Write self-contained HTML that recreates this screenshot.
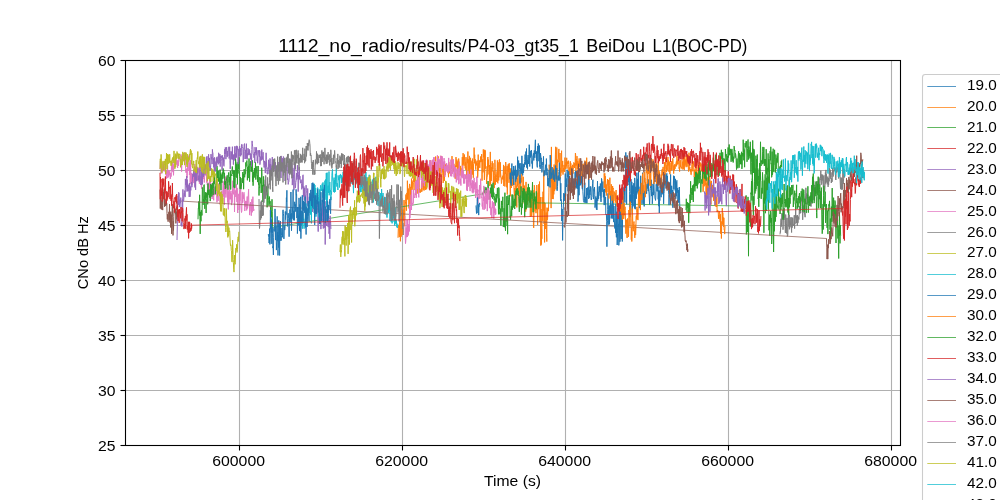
<!DOCTYPE html>
<html><head><meta charset="utf-8"><title>chart</title>
<style>html,body{margin:0;padding:0;background:#fff;overflow:hidden}svg{display:block}text{font-family:"Liberation Sans",sans-serif;fill:#000}</style></head><body>
<svg width="1000" height="500" viewBox="0 0 1000 500">
<rect width="1000" height="500" fill="#fff"/>
<g stroke="#b0b0b0" stroke-width="1.1" fill="none"><line x1="239.5" y1="60" x2="239.5" y2="445"/><line x1="402.5" y1="60" x2="402.5" y2="445"/><line x1="565.5" y1="60" x2="565.5" y2="445"/><line x1="728.5" y1="60" x2="728.5" y2="445"/><line x1="891.5" y1="60" x2="891.5" y2="445"/><line x1="125" y1="115.5" x2="900" y2="115.5"/><line x1="125" y1="170.5" x2="900" y2="170.5"/><line x1="125" y1="225.5" x2="900" y2="225.5"/><line x1="125" y1="280.5" x2="900" y2="280.5"/><line x1="125" y1="335.5" x2="900" y2="335.5"/><line x1="125" y1="390.5" x2="900" y2="390.5"/></g>
<clipPath id="c"><rect x="125" y="60" width="775" height="385"/></clipPath>
<g clip-path="url(#c)" fill="none" stroke-width="1.0" stroke-linejoin="round">
<path d="M160.0,169.2L160.3,161.3L160.5,161.0L160.8,163.4L161.1,173.4L161.4,167.9L161.6,167.9L161.9,173.4L162.2,168.4L162.4,170.7L162.7,163.8L163.0,162.0L163.2,165.4L163.5,171.2L163.8,167.6L164.1,167.3L164.3,163.9L164.6,171.3L164.9,168.3L165.1,164.7L165.4,171.5L165.7,170.9L165.9,175.1L166.2,171.1L166.5,178.6L166.8,172.6L167.0,171.1L167.3,173.4L167.6,165.5L167.8,178.1L168.1,170.2L168.4,170.8L168.6,176.7L168.9,170.5L169.2,175.3L169.5,171.9L169.7,171.3L170.0,175.8L170.3,178.9L170.5,178.0L170.8,173.0L171.1,176.6L171.3,171.2L171.6,161.3L171.9,170.0L172.2,163.9L172.4,168.9L172.7,161.7L173.0,172.2L173.2,164.4L173.5,175.3L173.8,168.8L174.0,165.2L174.3,159.5L174.6,163.7L174.9,167.3L175.1,167.6L175.4,159.8L175.7,162.3L175.9,155.6L176.2,154.9L176.5,159.1L176.7,164.6L177.0,160.9L177.3,161.1L177.6,168.0L177.8,160.2L178.1,160.2L178.4,165.9L178.6,161.1L178.9,158.0L179.2,157.1L179.4,158.5L179.7,159.1L180.0,158.5L180.3,161.8L180.5,162.1L180.8,162.0L181.1,154.5L181.3,164.9L181.6,171.6L181.9,163.4L182.1,160.5L182.4,156.5L182.7,156.9L183.0,156.4L183.2,158.3L183.5,154.2L183.8,161.2L184.0,157.6L184.3,156.2L184.6,152.4L184.8,161.0L185.1,155.5L185.4,166.0L185.7,168.2L185.9,172.6L186.2,168.6L186.5,170.5L186.7,173.8L187.0,178.1L187.3,177.0L187.5,162.0L187.8,163.3L188.1,170.9L188.4,155.7L188.6,159.7L188.9,160.7L189.2,155.8L189.4,175.0L189.7,172.2L190.0,162.7L190.2,183.9L190.5,160.2L190.8,169.0L191.1,180.3L191.3,183.0L191.6,173.1L191.9,184.9L192.1,177.2L192.4,179.7L192.7,177.6L192.9,174.3L193.2,181.3L193.5,170.1L193.8,183.1L194.0,179.3L194.3,168.9L194.6,179.5L194.8,164.1L195.1,185.9L195.4,187.2L195.6,166.5L195.9,172.5L196.2,180.7L196.5,177.9L196.7,171.7L197.0,175.1L197.3,180.4L197.5,178.3L197.8,175.8L198.1,172.8L198.3,167.8L198.6,172.4L198.9,168.4L199.2,167.4L199.4,183.8L199.7,170.0L200.0,181.8L200.2,181.6L200.5,176.4L200.8,177.7L201.0,176.7L201.3,186.5L201.6,188.6L201.9,178.7L202.1,180.4L202.4,178.7L202.7,177.4L202.9,175.2L203.2,179.0L203.5,173.3L203.7,176.9L204.0,178.6L204.3,182.5L204.6,177.1L204.8,174.5L205.1,175.1L205.4,175.1L205.6,168.6L205.9,166.1L206.2,175.7L206.4,170.1L206.7,182.6L207.0,177.4L207.3,185.0L207.5,183.5L207.8,191.8L208.1,192.1L208.3,194.8L208.6,193.8L208.9,182.7L209.1,192.9L209.4,183.4L209.7,179.0L210.0,191.3L210.2,177.1L210.5,183.3L210.8,188.0L211.0,184.2L211.3,190.3L211.6,190.5L211.8,190.7L212.1,199.0L212.4,191.3L212.7,194.9L212.9,195.9L213.2,181.5L213.5,197.4L213.7,200.3L214.0,186.6L214.3,195.1L214.5,194.2L214.8,188.8L215.1,187.8L215.4,194.8L215.6,187.0L215.9,186.3L216.2,180.2L216.4,184.0L216.7,195.5L217.0,202.3L217.2,191.8L217.5,197.7L217.8,195.3L218.1,200.9L218.3,195.8L218.6,184.4L218.9,188.9L219.1,183.0L219.4,193.0L219.7,184.2L219.9,202.5L220.2,204.6L220.5,194.9L220.8,201.4L221.0,192.9L221.3,193.5L221.6,199.1L221.8,190.8L222.1,201.6L222.4,197.7L222.6,195.7L222.9,191.2L223.2,181.3L223.5,196.6L223.7,190.6L224.0,186.5L224.3,204.8L224.5,178.2L224.8,183.5L225.1,192.5L225.3,194.2L225.6,176.6L225.9,197.5L226.2,193.0L226.4,176.9L226.7,177.0L227.0,179.2L227.2,186.4L227.5,198.1L227.8,202.4L228.0,190.1L228.3,209.4L228.6,191.7L228.9,203.3L229.1,197.0L229.4,182.0L229.7,189.5L229.9,199.5L230.2,192.7L230.5,199.1L230.7,194.6L231.0,190.8L231.3,202.2L231.6,205.1L231.8,193.5L232.1,202.7L232.4,194.3L232.6,188.5L232.9,180.7L233.2,192.6L233.4,192.2L233.7,194.4L234.0,185.0L234.3,186.6L234.5,212.0L234.8,195.8L235.1,192.5L235.3,190.4L235.6,193.3L235.9,197.0L236.1,190.1L236.4,184.2L236.7,196.7L237.0,202.0L237.2,187.9L237.5,211.1L237.8,213.0L238.0,206.2L238.3,196.4L238.6,196.2L238.8,193.8L239.1,210.0L239.4,206.4L239.7,191.3L239.9,200.7L240.2,183.1L240.5,191.2L240.7,186.1L241.0,206.9L241.3,210.5L241.5,212.5L241.8,211.0L242.1,192.3L242.4,192.1L242.6,202.8L242.9,202.0L243.2,195.5L243.4,198.7L243.7,193.9L244.0,192.3L244.2,193.5L244.5,201.2L244.8,211.0L245.1,204.0L245.3,206.5L245.6,200.9L245.9,206.6L246.1,202.8L246.4,201.2L246.7,210.4L246.9,202.7L247.2,196.5L247.5,208.5L247.8,206.2L248.0,201.7L248.3,194.3L248.6,189.2L248.8,200.7L249.1,204.5L249.4,204.3L249.6,215.1L249.9,210.9L250.2,211.0L250.5,202.1L250.7,206.6L251.0,207.6L251.3,215.7L251.5,209.1L251.8,199.3L252.1,202.3L252.3,212.3L252.6,200.8L252.9,196.7L253.2,203.5L253.4,205.2L253.7,210.9L254.0,209.3" stroke="#e377c2"/>
<path d="M780.0,234.4L780.3,231.5L780.5,232.4L780.8,222.1L781.1,218.7L781.3,226.6L781.6,221.2L781.9,213.2L782.2,219.2L782.4,217.3L782.7,213.7L783.0,229.7L783.2,226.2L783.5,216.0L783.8,208.2L784.0,219.7L784.3,208.2L784.6,218.3L784.9,220.7L785.1,226.8L785.4,232.9L785.7,214.5L785.9,217.7L786.2,223.3L786.5,223.9L786.7,233.5L787.0,217.9L787.3,236.4L787.6,235.9L787.8,234.9L788.1,223.6L788.4,214.1L788.6,211.9L788.9,226.6L789.2,214.8L789.4,229.3L789.7,220.6L790.0,227.3L790.3,223.2L790.5,224.9L790.8,217.3L791.1,223.0L791.3,227.2L791.6,232.5L791.9,217.3L792.1,227.7L792.4,221.9L792.7,217.9L793.0,224.9L793.2,225.3L793.5,224.6L793.8,226.0L794.0,218.5L794.3,215.2L794.6,228.6L794.8,221.6L795.1,223.7L795.4,217.8L795.7,205.9L795.9,218.0L796.2,215.6L796.5,223.0L796.7,221.9L797.0,215.6L797.3,225.6L797.5,215.2L797.8,223.2L798.1,222.3L798.4,216.7L798.6,217.5L798.9,219.5L799.2,214.0L799.4,206.0L799.7,213.7L800.0,209.6L800.2,207.2L800.5,213.2L800.8,212.8L801.1,206.6L801.3,201.0L801.6,197.7L801.9,201.5L802.1,201.9L802.4,193.5L802.7,219.8L802.9,208.2L803.2,205.5L803.5,207.8L803.8,211.3L804.0,212.8L804.3,204.5L804.6,214.2L804.8,213.9L805.1,217.2L805.4,196.7L805.6,203.2L805.9,187.8L806.2,198.8L806.5,193.5L806.7,193.6L807.0,204.4L807.3,199.3L807.5,202.4L807.8,194.6L808.1,198.8L808.3,202.3L808.6,202.5L808.9,201.8L809.2,203.3L809.4,198.5L809.7,196.4L810.0,205.7L810.2,199.2L810.5,196.7L810.8,197.8L811.0,206.6L811.3,197.7L811.6,199.1L811.9,203.3L812.1,197.5L812.4,195.4L812.7,201.5L812.9,188.8L813.2,199.8L813.5,188.0L813.7,180.9L814.0,184.4L814.3,191.5L814.6,192.0L814.8,184.9L815.1,189.5L815.4,192.5L815.6,193.4L815.9,187.0L816.2,193.5L816.4,182.4L816.7,190.3L817.0,181.0L817.3,186.4L817.5,185.6L817.8,183.5L818.1,192.4L818.3,181.6L818.6,186.6L818.9,181.1L819.1,177.5L819.4,185.2L819.7,184.8L820.0,179.0L820.2,179.8L820.5,178.4L820.8,170.7L821.0,180.8L821.3,184.7L821.6,183.9L821.8,174.3L822.1,180.6L822.4,175.5L822.7,174.8L822.9,183.4L823.2,185.0L823.5,192.6L823.7,176.0L824.0,175.4L824.3,187.2L824.5,191.6L824.8,190.1L825.1,185.2L825.4,172.5L825.6,183.5L825.9,169.9L826.2,182.4L826.4,174.3L826.7,180.5L827.0,181.7L827.2,184.3L827.5,183.9L827.8,176.6L828.1,186.9L828.3,178.0L828.6,185.0L828.9,178.7L829.1,181.3L829.4,168.1L829.7,174.7L829.9,171.4L830.2,178.8L830.5,169.8L830.8,177.0L831.0,172.4L831.3,183.0L831.6,178.4L831.8,179.1L832.1,181.8L832.4,175.3L832.6,167.8L832.9,173.8L833.2,176.5L833.5,170.1L833.7,172.1L834.0,167.6L834.3,167.6L834.5,170.6L834.8,171.1L835.1,167.5L835.3,168.8L835.6,179.0L835.9,180.0L836.2,171.4L836.4,172.4L836.7,167.3L837.0,172.2L837.2,167.2L837.5,168.7L837.8,168.2L838.0,169.7L838.3,168.1L838.6,178.5L838.9,169.5L839.1,176.3L839.4,170.4L839.7,167.7L839.9,170.3L840.2,182.0L840.5,188.8L840.7,185.4L841.0,177.4L841.3,189.7L841.6,183.4L841.8,178.2L842.1,182.9L842.4,189.5L842.6,182.6L842.9,169.0L843.2,183.9L843.4,181.6L843.7,178.2L844.0,169.0L844.3,177.5L844.5,175.9L844.8,171.0" stroke="#7f7f7f"/>
<path d="M398.0,237.8L398.3,228.2L398.5,227.6L398.8,224.9L399.1,230.9L399.3,237.1L399.6,217.0L399.9,227.0L400.2,228.0L400.4,241.3L400.7,236.0L401.0,204.4L401.2,236.7L401.5,208.6L401.8,210.8L402.0,224.7L402.3,234.9L402.6,224.7L402.9,232.4L403.1,209.4L403.4,215.0L403.7,220.6L403.9,200.4L404.2,200.0L404.5,226.2L404.7,221.3L405.0,207.5L405.3,204.1L405.6,201.9L405.8,194.6L406.1,195.3L406.4,210.7L406.6,201.3L406.9,192.9L407.2,199.2L407.4,180.7L407.7,199.5L408.0,190.1L408.3,195.1L408.5,188.6L408.8,204.9L409.1,208.5L409.3,187.0L409.6,183.9L409.9,185.3L410.1,204.4L410.4,197.1L410.7,186.9L411.0,189.0L411.2,194.1L411.5,178.6L411.8,188.0L412.0,180.5L412.3,181.7L412.6,183.0L412.8,189.7L413.1,187.8L413.4,182.7L413.7,178.6L413.9,170.2L414.2,181.7L414.5,181.9L414.7,172.7L415.0,190.1L415.3,181.3L415.5,183.4L415.8,195.1L416.1,192.7L416.4,185.9L416.6,187.6L416.9,187.6L417.2,193.6L417.4,176.1L417.7,170.8L418.0,182.2L418.2,186.4L418.5,193.1L418.8,181.6L419.1,176.9L419.3,187.3L419.6,190.5L419.9,192.7L420.1,189.3L420.4,192.4L420.7,192.2L420.9,192.1L421.2,191.9L421.5,181.0L421.8,191.6L422.0,191.4L422.3,187.5L422.6,177.3L422.8,187.3L423.1,163.4L423.4,189.6L423.6,186.0L423.9,190.5L424.2,190.4L424.5,186.9L424.7,185.5L425.0,179.8L425.3,178.1L425.5,189.8L425.8,173.7L426.1,186.3L426.3,182.9L426.6,189.3L426.9,186.7L427.2,173.8L427.4,172.7L427.7,179.8L428.0,181.3L428.2,182.7L428.5,170.0L428.8,181.7L429.0,171.3L429.3,177.6L429.6,182.0L429.9,180.5L430.1,160.1L430.4,174.6L430.7,162.5L430.9,174.3L431.2,172.6L431.5,174.6L431.7,167.5L432.0,173.3L432.3,161.5L432.6,167.0L432.8,177.2L433.1,180.7L433.4,171.6L433.6,168.1L433.9,166.7L434.2,163.4L434.4,173.0L434.7,162.7L435.0,170.5L435.3,174.6L435.5,156.6L435.8,156.6L436.1,169.5L436.3,164.7L436.6,164.8L436.9,174.1L437.1,167.0L437.4,163.6L437.7,164.1L438.0,158.4L438.2,156.3L438.5,170.8L438.8,170.4L439.0,167.7L439.3,182.3L439.6,168.4L439.8,168.9L440.1,160.2L440.4,163.8L440.7,161.6L440.9,177.0L441.2,155.9L441.5,162.6L441.7,157.8L442.0,172.3L442.3,166.1L442.5,163.4L442.8,175.3L443.1,182.9L443.4,181.7L443.6,162.9L443.9,173.1L444.2,163.2L444.4,180.9L444.7,163.7L445.0,168.8L445.2,175.0L445.5,165.2L445.8,166.7L446.1,163.9L446.3,168.2L446.6,168.6L446.9,168.1L447.1,168.3L447.4,171.3L447.7,168.9L447.9,172.6L448.2,171.3L448.5,177.2L448.8,161.9L449.0,163.7L449.3,170.0L449.6,173.1L449.8,170.9L450.1,173.7L450.4,169.0L450.6,174.2L450.9,170.1L451.2,165.7L451.5,165.3L451.7,168.7L452.0,156.1L452.3,167.3L452.5,171.0L452.8,171.8L453.1,167.7L453.3,169.1L453.6,171.4L453.9,163.8L454.2,169.8L454.4,168.1L454.7,168.2L455.0,167.4L455.2,178.8L455.5,165.9L455.8,164.3L456.0,157.1L456.3,167.0L456.6,164.4L456.9,159.6L457.1,169.0L457.4,175.6L457.7,161.5L457.9,161.3L458.2,174.5L458.5,163.2L458.7,158.5L459.0,163.6L459.3,168.3L459.6,173.5L459.8,175.4L460.1,173.0L460.4,165.9L460.6,169.8L460.9,167.9L461.2,175.8L461.4,169.6L461.7,172.7L462.0,172.6L462.3,157.1L462.5,174.9L462.8,171.1L463.1,153.1L463.3,164.4L463.6,156.8L463.9,162.8L464.1,165.7L464.4,154.5L464.7,159.0L465.0,160.9L465.2,168.3L465.5,162.0L465.8,169.9L466.0,157.1L466.3,165.4L466.6,170.7L466.8,178.5L467.1,161.3L467.4,158.7L467.7,163.2L467.9,151.5L468.2,170.1L468.5,159.5L468.7,169.5L469.0,174.2L469.3,177.4L469.5,155.9L469.8,176.8L470.1,166.5L470.4,159.3L470.6,157.8L470.9,178.9L471.2,178.8L471.4,170.9L471.7,161.8L472.0,160.6L472.2,174.3L472.5,158.6L472.8,174.5L473.1,165.5L473.3,177.8L473.6,163.8L473.9,161.6L474.1,147.6L474.4,163.1L474.7,154.7L474.9,163.4L475.2,159.2L475.5,166.3L475.8,169.7L476.0,161.5L476.3,165.5L476.6,162.6L476.8,162.6L477.1,160.5L477.4,162.5L477.6,177.8L477.9,174.7L478.2,154.6L478.5,170.8L478.7,163.9L479.0,163.4L479.3,164.1L479.5,160.5L479.8,167.9L480.1,160.7L480.3,162.1L480.6,156.5L480.9,158.8L481.2,162.1L481.4,161.5L481.7,154.1L482.0,180.7L482.2,174.7L482.5,162.2L482.8,159.3L483.0,172.4L483.3,149.4L483.6,157.2L483.9,154.1L484.1,151.3L484.4,179.9L484.7,149.8L484.9,160.9L485.2,150.4L485.5,166.9L485.7,168.7L486.0,166.3L486.3,173.9L486.6,184.0L486.8,180.0L487.1,177.7L487.4,175.0L487.6,159.9L487.9,157.0L488.2,167.4L488.4,159.6L488.7,167.7L489.0,174.5L489.3,167.0L489.5,165.1L489.8,186.1L490.1,168.7L490.3,151.9L490.6,184.4L490.9,162.9L491.1,180.0L491.4,180.8L491.7,167.1L492.0,171.6L492.2,161.2L492.5,163.7L492.8,169.3L493.0,163.2L493.3,183.3L493.6,180.7L493.8,171.1L494.1,187.9L494.4,188.0L494.7,175.6L494.9,159.8L495.2,167.6L495.5,184.7L495.7,174.7L496.0,178.9L496.3,181.9L496.5,177.4L496.8,171.4L497.1,170.8L497.4,160.4L497.6,182.8L497.9,183.3L498.2,162.3L498.4,175.4L498.7,180.5L499.0,174.4L499.2,160.1L499.5,159.4L499.8,169.1L500.1,177.4L500.3,162.2L500.6,173.0L500.9,176.2L501.1,177.1L501.4,183.6L501.7,182.2L501.9,177.8L502.2,179.1L502.5,176.6L502.8,175.7L503.0,179.6L503.3,172.2L503.6,164.9L503.8,186.0L504.1,166.2L504.4,175.3L504.6,176.8L504.9,186.5L505.2,172.3L505.5,173.9L505.7,162.0L506.0,166.2L506.3,181.5L506.5,173.8L506.8,187.3L507.1,166.1L507.3,194.5L507.6,176.4L507.9,168.8L508.2,164.3L508.4,171.9L508.7,164.7L509.0,182.8L509.2,163.2L509.5,178.8L509.8,168.4L510.0,175.5L510.3,196.3L510.6,168.6L510.9,184.9L511.1,186.5L511.4,188.0L511.7,175.9L511.9,171.4L512.2,176.7L512.5,185.7L512.7,184.4L513.0,177.5L513.3,173.7L513.6,178.8L513.8,181.7L514.1,192.1L514.4,195.5L514.6,194.8L514.9,188.0L515.2,204.4L515.4,185.9L515.7,174.6L516.0,183.3L516.3,189.5L516.5,185.8L516.8,207.4L517.1,178.2L517.3,179.4L517.6,186.3L517.9,173.9L518.1,171.0L518.4,185.8L518.7,193.6L519.0,192.8L519.2,202.8L519.5,208.7L519.8,175.3L520.0,195.8L520.3,204.0L520.6,181.8L520.8,178.0L521.1,178.0L521.4,182.4L521.7,181.3L521.9,171.2L522.2,191.8L522.5,188.7L522.7,203.9L523.0,193.0L523.3,176.8L523.5,193.4L523.8,195.4L524.1,192.1L524.4,185.6L524.6,192.5L524.9,194.4L525.2,201.8L525.4,193.8L525.7,211.7L526.0,181.9L526.2,193.7L526.5,209.4L526.8,201.1L527.1,198.7L527.3,204.8L527.6,197.7L527.9,194.8L528.1,201.0L528.4,200.2L528.7,196.5L528.9,197.4L529.2,199.5L529.5,190.9L529.8,190.2L530.0,190.5L530.3,216.9L530.6,201.2L530.8,210.6L531.1,203.6L531.4,198.8L531.6,216.4L531.9,210.5L532.2,197.8L532.5,192.5L532.7,195.3L533.0,190.2L533.3,215.3L533.5,227.5L533.8,228.0L534.1,197.0L534.3,185.2L534.6,187.3L534.9,211.4L535.2,210.6L535.4,196.6L535.7,198.0L536.0,213.2L536.2,196.7L536.5,210.0L536.8,185.0L537.0,189.9L537.3,202.8L537.6,224.9L537.9,208.2L538.1,192.7L538.4,209.1L538.7,184.3L538.9,209.1L539.2,205.1L539.5,181.6L539.7,196.7L540.0,222.0L540.3,206.9L540.6,197.2L540.8,245.6L541.1,209.1L541.4,244.5L541.6,229.6L541.9,238.8L542.2,197.0L542.4,204.8L542.7,220.8L543.0,191.7L543.3,210.7L543.5,195.0L543.8,170.8L544.1,224.0L544.3,202.5L544.6,242.4L544.9,202.9L545.1,203.3L545.4,223.1L545.7,229.0L546.0,223.8L546.2,212.5L546.5,233.5L546.8,241.6L547.0,207.6L547.3,219.9L547.6,218.3L547.8,208.4L548.1,209.6L548.4,211.1L548.7,203.2L548.9,192.9L549.2,164.7L549.5,169.3L549.7,180.5L550.0,167.8L550.3,178.2L550.5,177.9L550.8,181.3L551.1,208.1L551.4,146.9L551.6,182.3L551.9,174.1L552.2,199.0L552.4,197.9L552.7,171.1L553.0,181.8L553.2,199.1L553.5,168.1L553.8,194.4L554.1,164.5L554.3,184.9L554.6,191.1L554.9,166.3L555.1,167.2L555.4,154.8L555.7,146.8L555.9,189.4L556.2,171.0L556.5,168.9L556.8,147.5L557.0,179.8L557.3,160.1L557.6,162.6L557.8,159.6L558.1,162.2L558.4,159.5L558.6,151.9L558.9,148.9L559.2,160.6L559.5,169.5L559.7,171.7L560.0,153.0L560.3,178.6L560.5,167.9L560.8,176.0L561.1,168.0L561.3,156.9L561.6,150.7L561.9,172.5L562.2,164.6L562.4,166.3L562.7,160.9L563.0,174.6L563.2,170.5L563.5,168.0L563.8,171.4L564.0,164.9L564.3,171.1L564.6,171.8L564.9,157.6L565.1,161.4L565.4,169.0L565.7,164.1L565.9,162.2L566.2,165.4L566.5,166.3L566.7,157.8L567.0,168.7L567.3,161.7L567.6,163.8L567.8,162.2L568.1,160.9L568.4,160.7L568.6,164.7L568.9,174.0L569.2,169.6L569.4,167.5L569.7,174.9L570.0,166.3L570.3,161.3L570.5,175.2L570.8,163.2L571.1,169.1L571.3,167.6L571.6,167.2L571.9,166.5L572.1,171.1L572.4,166.0L572.7,164.8L573.0,173.6L573.2,169.7L573.5,167.7L573.8,162.4L574.0,163.4L574.3,163.6L574.6,168.0L574.8,163.2L575.1,165.7L575.4,153.1L575.7,155.1L575.9,171.4L576.2,159.2L576.5,165.4L576.7,164.7L577.0,156.1L577.3,169.1L577.5,167.1L577.8,160.9L578.1,171.5L578.4,166.0L578.6,162.8L578.9,165.0L579.2,158.4L579.4,167.3L579.7,161.5L580.0,161.6L580.2,160.1L580.5,161.4L580.8,167.0L581.1,179.2L581.3,169.3L581.6,168.6L581.9,170.0L582.1,164.2L582.4,179.6L582.7,173.8L582.9,173.0L583.2,168.8L583.5,168.5L583.8,163.7L584.0,164.4L584.3,165.8L584.6,179.0L584.8,160.7L585.1,160.8L585.4,169.0L585.6,171.9L585.9,163.0L586.2,165.1L586.5,163.2L586.7,157.7L587.0,170.5L587.3,169.8L587.5,166.6L587.8,172.5L588.1,164.7L588.3,169.6L588.6,169.5L588.9,174.9L589.2,162.3L589.4,178.3L589.7,172.1L590.0,172.5" stroke="#ff7f0e"/>
<path d="M198.0,219.3L198.3,208.3L198.5,208.8L198.8,201.4L199.1,207.7L199.4,215.6L199.6,194.8L199.9,209.1L200.2,233.9L200.4,218.0L200.7,211.9L201.0,221.3L201.2,210.3L201.5,210.2L201.8,215.6L202.1,215.0L202.3,187.6L202.6,187.4L202.9,199.0L203.1,204.9L203.4,199.3L203.7,201.3L203.9,185.1L204.2,184.6L204.5,199.7L204.8,208.8L205.0,195.9L205.3,200.1L205.6,192.2L205.8,194.1L206.1,213.0L206.4,198.6L206.6,192.8L206.9,196.4L207.2,196.0L207.5,189.9L207.7,204.3L208.0,183.5L208.3,194.7L208.5,190.1L208.8,193.1L209.1,194.0L209.3,196.0L209.6,197.6L209.9,189.5L210.2,201.1L210.4,198.3L210.7,184.0L211.0,187.3L211.2,193.9L211.5,185.1L211.8,196.6L212.0,193.0L212.3,183.1L212.6,189.3L212.9,190.3L213.1,194.9L213.4,188.3L213.7,177.0L213.9,179.5L214.2,183.7L214.5,175.5L214.7,183.8L215.0,183.7L215.3,194.1L215.6,189.6L215.8,186.3L216.1,188.8L216.4,182.1L216.6,180.2L216.9,166.0L217.2,167.4L217.4,178.0L217.7,171.1L218.0,178.7L218.3,181.2L218.5,181.4L218.8,170.7L219.1,181.5L219.3,177.7L219.6,185.4L219.9,183.6L220.1,169.6L220.4,183.3L220.7,173.3L221.0,190.2L221.2,174.5L221.5,182.3L221.8,181.4L222.0,182.7L222.3,172.4L222.6,177.0L222.8,178.9L223.1,168.4L223.4,173.4L223.7,169.9L223.9,176.6L224.2,177.9L224.5,172.8L224.7,184.7L225.0,181.5L225.3,188.9L225.5,181.4L225.8,188.2L226.1,181.8L226.4,178.9L226.6,179.4L226.9,177.3L227.2,175.3L227.4,183.5L227.7,183.9L228.0,189.7L228.2,178.3L228.5,172.7L228.8,172.4L229.1,182.2L229.3,182.2L229.6,177.1L229.9,185.0L230.1,185.4L230.4,170.8L230.7,189.5L230.9,174.7L231.2,174.4L231.5,174.5L231.8,176.0L232.0,169.8L232.3,166.5L232.6,169.3L232.8,173.9L233.1,172.6L233.4,170.4L233.6,177.8L233.9,187.4L234.2,177.5L234.5,170.5L234.7,188.0L235.0,187.8L235.3,177.7L235.5,158.4L235.8,161.0L236.1,172.9L236.3,177.7L236.6,164.4L236.9,172.3L237.2,162.4L237.4,184.4L237.7,169.6L238.0,173.5L238.2,169.1L238.5,162.2L238.8,169.0L239.0,157.4L239.3,170.7L239.6,176.1L239.9,178.7L240.1,188.8L240.4,177.2L240.7,189.0L240.9,189.1L241.2,189.1L241.5,185.0L241.7,182.5L242.0,178.2L242.3,183.0L242.6,179.2L242.8,172.0L243.1,179.4L243.4,174.1L243.6,189.2L243.9,177.2L244.2,169.2L244.4,175.7L244.7,177.3L245.0,174.0L245.3,174.0L245.5,173.9L245.8,162.4L246.1,166.5L246.3,163.2L246.6,162.2L246.9,160.5L247.1,163.2L247.4,180.3L247.7,167.2L248.0,168.7L248.2,178.1L248.5,165.8L248.8,172.5L249.0,158.5L249.3,168.3L249.6,181.7L249.8,173.1L250.1,163.8L250.4,164.8L250.7,161.2L250.9,166.0L251.2,171.8L251.5,158.2L251.7,167.2L252.0,171.3L252.3,160.3L252.5,181.7L252.8,176.1L253.1,185.7L253.4,179.1L253.6,171.7L253.9,173.9L254.2,175.2L254.4,168.1L254.7,177.4L255.0,177.7L255.2,174.0L255.5,162.2L255.8,179.6L256.1,174.6L256.3,173.6L256.6,168.2L256.9,166.2L257.1,175.5L257.4,175.2L257.7,182.1L257.9,174.6L258.2,166.0L258.5,184.6L258.8,183.4L259.0,195.5L259.3,187.1L259.6,187.7L259.8,177.1L260.1,180.3L260.4,178.0L260.6,183.3L260.9,179.4L261.2,193.0L261.5,179.0L261.7,167.7L262.0,175.4L262.3,191.5L262.5,185.2L262.8,202.0L263.1,200.3L263.3,192.5L263.6,176.4L263.9,196.5L264.2,186.8L264.4,184.6L264.7,187.2L265.0,196.2L265.2,189.6L265.5,185.0L265.8,187.1L266.0,193.9L266.3,186.4L266.6,194.2L266.9,190.2L267.1,207.3L267.4,200.1L267.7,186.4L267.9,185.3L268.2,197.9L268.5,199.4L268.7,200.7L269.0,205.8L269.3,196.5L269.6,199.8L269.8,203.6L270.1,201.2L270.4,206.5L270.6,210.3L270.9,216.7L271.2,211.5L271.4,217.5L271.7,209.1L272.0,199.3L272.3,211.2L272.5,226.4L272.8,227.4" stroke="#2ca02c"/>
<path d="M272.8,227.4L482.0,194.0" stroke="#2ca02c" stroke-width="0.72"/>
<path d="M482.0,194.0L482.3,193.7L482.5,193.8L482.8,193.0L483.1,195.2L483.3,191.7L483.6,193.9L483.9,191.4L484.2,193.1L484.4,189.9L484.7,192.2L485.0,186.9L485.2,187.8L485.5,194.2L485.8,192.6L486.0,188.8L486.3,195.1L486.6,189.5L486.9,187.4L487.1,189.5L487.4,191.1L487.7,195.1L487.9,181.3L488.2,181.0L488.5,191.6L488.7,193.1L489.0,190.9L489.3,193.1L489.6,195.3L489.8,199.6L490.1,198.4L490.4,187.7L490.6,195.3L490.9,196.7L491.2,190.4L491.4,184.5L491.7,197.2L492.0,184.6L492.3,195.5L492.5,198.7L492.8,185.8L493.1,182.8L493.3,187.2L493.6,196.7L493.9,192.7L494.1,200.3L494.4,196.5L494.7,198.5L495.0,205.8L495.2,204.7L495.5,198.5L495.8,199.9L496.0,194.1L496.3,202.4L496.6,194.1L496.8,198.5L497.1,195.2L497.4,187.9L497.7,196.3L497.9,197.4L498.2,198.5L498.5,214.3L498.7,187.4L499.0,188.3L499.3,208.9L499.5,198.6L499.8,214.3L500.1,211.8L500.4,214.0L500.6,208.6L500.9,225.7L501.2,211.2L501.4,200.9L501.7,205.6L502.0,211.9L502.2,211.2L502.5,205.6L502.8,196.8L503.1,214.2L503.3,226.9L503.6,217.4L503.9,223.0L504.1,208.1L504.4,227.2L504.7,213.2L504.9,192.7L505.2,225.3L505.5,230.8L505.8,217.8L506.0,218.3L506.3,221.5L506.6,208.0L506.8,196.2L507.1,225.7L507.4,204.2L507.6,234.2L507.9,195.5L508.2,199.5L508.5,205.0L508.7,201.9L509.0,199.4L509.3,194.9L509.5,197.2L509.8,206.0L510.1,217.7L510.3,215.6L510.6,219.7L510.9,210.6L511.2,208.4L511.4,206.0L511.7,216.3L512.0,194.5L512.2,204.7L512.5,209.6L512.8,194.7L513.0,196.0L513.3,200.4L513.6,207.5L513.9,200.6L514.1,202.7L514.4,198.9L514.7,209.0L514.9,202.3L515.2,195.3L515.5,193.9L515.7,205.8L516.0,190.6L516.3,194.1L516.6,188.8L516.8,192.6L517.1,195.2L517.4,188.4L517.6,188.2L517.9,194.3L518.2,190.7L518.4,195.0L518.7,196.5L519.0,203.3L519.3,211.9L519.5,198.8L519.8,205.6L520.1,195.5L520.3,207.1L520.6,198.2L520.9,198.1L521.1,186.4L521.4,214.6L521.7,205.6L522.0,203.4L522.2,208.1L522.5,202.5L522.8,190.9L523.0,202.4L523.3,188.0L523.6,199.9L523.8,195.3L524.1,191.9L524.4,188.8L524.7,217.2L524.9,199.6L525.2,201.5L525.5,209.2L525.7,193.0L526.0,191.4L526.3,208.8L526.5,193.7L526.8,206.2L527.1,207.6L527.4,202.1L527.6,187.5L527.9,192.6L528.2,194.9L528.4,183.9L528.7,192.6L529.0,207.7L529.2,193.5L529.5,187.4L529.8,202.5L530.1,195.1L530.3,192.7L530.6,201.2L530.9,207.7L531.1,190.6L531.4,195.6L531.7,194.0L531.9,198.8L532.2,191.6L532.5,182.1L532.8,201.5L533.0,212.3L533.3,212.1L533.6,199.0L533.8,198.5L534.1,192.7L534.4,199.1L534.6,201.3L534.9,196.8L535.2,204.4L535.5,199.8L535.7,199.3L536.0,208.8L536.3,191.3L536.5,201.2L536.8,202.9" stroke="#2ca02c"/>
<path d="M536.8,202.9L745.0,206.0" stroke="#2ca02c" stroke-width="0.72"/>
<path d="M745.0,206.0L745.3,207.0L745.5,208.4L745.8,207.9L746.1,195.4L746.3,234.4L746.6,233.5L746.9,210.9L747.2,213.9L747.4,232.0L747.7,213.6L748.0,196.9L748.2,212.3L748.5,256.2L748.8,209.2L749.0,214.9L749.3,217.2L749.6,207.9L749.9,206.7L750.1,204.8L750.4,212.2L750.7,226.5L750.9,192.7L751.2,194.2L751.5,181.1L751.7,195.5L752.0,200.5L752.3,178.6L752.6,182.7L752.8,203.0L753.1,209.0L753.4,215.4L753.6,196.3L753.9,205.1L754.2,201.8L754.4,181.4L754.7,172.9L755.0,193.5L755.3,176.1L755.5,177.8L755.8,188.0L756.1,189.1L756.3,188.6L756.6,170.1L756.9,183.9L757.1,184.1L757.4,179.4L757.7,183.6L758.0,181.5L758.2,199.0L758.5,195.9L758.8,206.8L759.0,192.3L759.3,170.8L759.6,197.9L759.8,187.8L760.1,173.5L760.4,172.3L760.7,180.9L760.9,181.0L761.2,198.9L761.5,191.1L761.7,191.0L762.0,187.8L762.3,193.5L762.5,172.4L762.8,179.1L763.1,180.7L763.4,211.7L763.6,197.8L763.9,232.8L764.2,184.7L764.4,180.6L764.7,203.5L765.0,178.6L765.2,174.2L765.5,213.2L765.8,199.1L766.1,181.7L766.3,177.6L766.6,210.9L766.9,185.4L767.1,175.8L767.4,176.9L767.7,195.7L767.9,185.0L768.2,176.8L768.5,208.0L768.8,210.5L769.0,230.3L769.3,217.6L769.6,214.7L769.8,235.7L770.1,223.8L770.4,222.9L770.6,211.0L770.9,212.8L771.2,222.5L771.5,218.0L771.7,244.0L772.0,235.8L772.3,203.8L772.5,189.0L772.8,207.3L773.1,208.4L773.3,209.8L773.6,252.0L773.9,228.2L774.2,184.5L774.4,231.3L774.7,193.2L775.0,213.0L775.2,194.1L775.5,221.5L775.8,199.5L776.0,217.0L776.3,213.0L776.6,194.1L776.9,199.2L777.1,203.3L777.4,207.1L777.7,207.6L777.9,205.7L778.2,209.5L778.5,188.7L778.7,201.0L779.0,196.8L779.3,202.4L779.6,198.7L779.8,203.5L780.1,214.0L780.4,192.7L780.6,200.9L780.9,209.9L781.2,194.5L781.4,199.7L781.7,206.8L782.0,197.7L782.3,204.1L782.5,199.4L782.8,193.0L783.1,219.7L783.3,209.9L783.6,217.6L783.9,208.9L784.1,184.0L784.4,201.5L784.7,203.4L785.0,204.0L785.2,207.3L785.5,199.2L785.8,205.7L786.0,203.2L786.3,188.4L786.6,191.4L786.8,207.1L787.1,185.9L787.4,208.4L787.7,185.3L787.9,212.5L788.2,198.0L788.5,208.1L788.7,214.7L789.0,196.6L789.3,179.6L789.5,207.3L789.8,197.8L790.1,203.7L790.4,187.5L790.6,196.4L790.9,192.8L791.2,194.8L791.4,188.1L791.7,185.0L792.0,194.4L792.2,194.0L792.5,188.8L792.8,185.0L793.1,184.8L793.3,207.0L793.6,197.5L793.9,200.6L794.1,199.6L794.4,195.3L794.7,190.7L794.9,197.1L795.2,204.3L795.5,204.0L795.8,209.0L796.0,193.2L796.3,196.5L796.6,184.8L796.8,203.2L797.1,198.2L797.4,208.7L797.6,201.4L797.9,201.7L798.2,207.2L798.5,197.9L798.7,196.3L799.0,200.1L799.3,194.0L799.5,193.0L799.8,203.3L800.1,196.7L800.3,210.7L800.6,198.0L800.9,200.7L801.2,191.1L801.4,196.3L801.7,195.5L802.0,197.7L802.2,188.6L802.5,195.5L802.8,211.5L803.0,203.8L803.3,202.4L803.6,189.6L803.9,189.7L804.1,193.7L804.4,212.1L804.7,198.8L804.9,198.9L805.2,198.8L805.5,202.3L805.7,203.7L806.0,202.8L806.3,212.8L806.6,212.9L806.8,205.7L807.1,204.1L807.4,194.9L807.6,197.6L807.9,186.3L808.2,203.5L808.4,212.6L808.7,205.3L809.0,197.1L809.3,198.3L809.5,200.4L809.8,206.0L810.1,204.1L810.3,195.6L810.6,200.6L810.9,192.3L811.1,195.9L811.4,201.6L811.7,185.2L812.0,191.6L812.2,203.3L812.5,176.8L812.8,190.4L813.0,176.9L813.3,173.5L813.6,185.9L813.8,184.9L814.1,203.1L814.4,201.5L814.7,191.3L814.9,187.5L815.2,196.2L815.5,190.4L815.7,193.2L816.0,181.5L816.3,196.7L816.5,212.5L816.8,218.1L817.1,196.7L817.4,186.0L817.6,184.2L817.9,194.9L818.2,176.7L818.4,202.2L818.7,208.3L819.0,194.7L819.2,199.2L819.5,189.2L819.8,184.5L820.1,192.2L820.3,205.7L820.6,208.2L820.9,191.3L821.1,199.8L821.4,187.6L821.7,209.5L821.9,226.0L822.2,233.7L822.5,230.9L822.8,214.7L823.0,204.1L823.3,229.5L823.6,195.6L823.8,185.8L824.1,200.1L824.4,206.5L824.6,201.8L824.9,202.4L825.2,191.6L825.5,222.8L825.7,220.1L826.0,204.2L826.3,206.5L826.5,204.2L826.8,216.3L827.1,227.9L827.3,215.8L827.6,210.7L827.9,234.1L828.2,209.4L828.4,211.1L828.7,208.0L829.0,204.2L829.2,206.1L829.5,200.9L829.8,210.0L830.0,229.7L830.3,218.5L830.6,239.6L830.9,228.0L831.1,229.1L831.4,206.6L831.7,219.3L831.9,221.9L832.2,188.1L832.5,215.6L832.7,214.0L833.0,204.3L833.3,220.9L833.6,197.7L833.8,216.4L834.1,205.4L834.4,209.9L834.6,215.5L834.9,200.5L835.2,201.5L835.4,207.4L835.7,222.2L836.0,243.0L836.3,219.9L836.5,209.3L836.8,223.3L837.1,227.1L837.3,216.1L837.6,220.9L837.9,238.5L838.1,225.6L838.4,242.7L838.7,258.5L839.0,229.9L839.2,235.8L839.5,212.6L839.8,229.1L840.0,243.4L840.3,225.0L840.6,234.7L840.8,235.4" stroke="#2ca02c"/>
<path d="M160.0,189.5L160.3,208.6L160.5,195.9L160.8,204.6L161.1,200.4L161.4,209.5L161.6,208.1L161.9,199.6L162.2,187.9L162.4,205.7L162.7,210.1L163.0,199.5L163.2,191.9L163.5,193.4L163.8,198.9L164.1,189.4L164.3,198.9L164.6,206.8L164.9,198.7L165.1,205.7L165.4,203.4L165.7,206.0L165.9,203.2L166.2,199.3L166.5,204.7L166.8,203.5L167.0,213.3L167.3,219.4L167.6,214.3L167.8,216.5L168.1,221.7L168.4,215.1L168.6,214.4L168.9,211.8L169.2,219.8L169.5,204.2L169.7,220.3L170.0,222.6L170.3,213.1L170.5,227.4L170.8,211.6L171.1,222.4L171.3,214.6L171.6,233.8L171.9,219.7L172.2,206.1L172.4,204.3L172.7,217.8L173.0,235.4L173.2,221.2L173.5,230.4L173.8,216.3L174.0,210.3L174.3,209.2L174.6,206.4L174.9,211.9L175.1,208.6L175.4,214.2L175.7,209.4L175.9,223.4L176.2,211.7L176.5,211.8L176.7,219.3L177.0,206.9L177.3,209.4L177.6,203.9L177.8,200.9" stroke="#8c564b"/>
<path d="M177.8,200.9L826.5,238.5" stroke="#8c564b" stroke-width="0.72"/>
<path d="M826.5,238.5L826.8,247.1L827.0,259.1L827.3,253.3L827.6,244.8L827.8,259.1L828.1,244.5L828.4,248.1L828.7,239.3L828.9,244.0L829.2,239.3L829.5,239.2L829.7,231.0L830.0,241.7L830.3,243.7L830.5,242.3L830.8,236.3L831.1,239.0L831.4,234.9L831.6,227.5L831.9,228.3L832.2,232.8L832.4,232.8L832.7,236.3L833.0,228.2L833.2,211.6L833.5,219.2L833.8,222.6L834.1,223.4L834.3,220.8L834.6,213.9L834.9,222.4L835.1,226.8L835.4,218.0L835.7,222.1L835.9,222.8L836.2,227.5L836.5,222.7L836.8,215.6L837.0,204.9L837.3,212.4L837.6,220.7L837.8,204.0L838.1,196.0L838.4,204.8L838.6,211.5L838.9,214.5L839.2,216.3L839.5,202.1L839.7,198.3L840.0,204.6L840.3,201.5L840.5,194.0L840.8,193.2L841.1,212.3L841.3,203.5L841.6,208.9L841.9,210.5L842.2,209.9L842.4,209.3L842.7,206.3L843.0,208.2L843.2,205.7L843.5,190.0L843.8,201.2L844.0,205.8L844.3,183.1L844.6,202.9L844.9,204.1L845.1,201.2L845.4,190.1L845.7,196.7L845.9,191.3L846.2,191.1L846.5,178.3L846.7,185.0L847.0,179.9L847.3,192.0L847.6,182.9L847.8,192.8L848.1,187.7L848.4,192.7L848.6,183.9L848.9,176.9L849.2,189.3L849.4,179.6L849.7,183.4L850.0,183.3L850.3,172.4L850.5,173.7L850.8,177.2L851.1,167.6L851.3,173.7L851.6,181.3L851.9,180.9L852.1,178.9L852.4,179.3L852.7,178.3L853.0,176.2L853.2,170.1L853.5,172.2L853.8,174.7L854.0,171.6L854.3,174.9L854.6,177.0L854.8,168.3L855.1,164.3L855.4,170.4L855.7,172.8L855.9,167.1L856.2,169.0L856.5,164.8L856.7,155.7L857.0,173.6L857.3,176.0L857.5,171.6L857.8,167.2L858.1,163.7L858.4,168.6L858.6,173.0L858.9,170.0L859.2,163.3L859.4,164.7L859.7,170.7L860.0,165.1L860.2,165.3L860.5,164.3L860.8,152.8L861.1,154.7L861.3,158.1L861.6,163.0L861.9,160.4L862.1,165.4L862.4,162.9L862.7,159.7L862.9,159.2" stroke="#8c564b"/>
<path d="M177.0,240.0L177.3,226.8L177.5,211.4L177.8,204.4L178.1,195.8L178.4,204.9L178.6,192.2L178.9,192.7L179.2,193.0L179.4,207.1L179.7,204.2L180.0,199.5L180.2,203.2L180.5,201.4L180.8,197.6L181.1,225.7L181.3,223.8L181.6,222.4L181.9,226.5L182.1,221.4L182.4,199.5L182.7,211.6L182.9,189.4L183.2,200.5L183.5,201.2L183.8,199.4L184.0,195.6L184.3,193.2L184.6,195.8L184.8,190.6L185.1,197.1L185.4,178.9L185.6,184.7L185.9,183.0L186.2,181.6L186.5,187.3L186.7,176.0L187.0,191.6L187.3,179.6L187.5,190.8L187.8,184.5L188.1,190.9L188.3,191.2L188.6,189.3L188.9,184.8L189.2,197.0L189.4,183.1L189.7,188.8L190.0,196.8L190.2,195.2L190.5,186.6L190.8,190.4L191.0,185.5L191.3,183.0L191.6,182.1L191.9,187.2L192.1,185.8L192.4,179.5L192.7,175.7L192.9,173.7L193.2,176.8L193.5,173.6L193.7,169.8L194.0,175.8L194.3,176.1L194.6,173.6L194.8,186.4L195.1,187.6L195.4,168.0L195.6,189.9L195.9,168.4L196.2,175.2L196.4,176.7L196.7,181.2L197.0,166.8L197.3,171.7L197.5,173.4L197.8,168.7L198.1,178.3L198.3,180.2L198.6,177.3L198.9,175.5L199.1,181.6L199.4,178.0L199.7,178.2L200.0,166.9L200.2,181.9L200.5,183.6L200.8,185.0L201.0,180.7L201.3,165.9L201.6,171.2L201.8,184.8L202.1,172.5L202.4,184.2L202.7,171.7L202.9,167.0L203.2,177.0L203.5,172.1L203.7,176.2L204.0,160.5L204.3,169.6L204.5,159.5L204.8,174.6L205.1,171.8L205.4,169.9L205.6,164.6L205.9,169.6L206.2,161.6L206.4,157.3L206.7,169.2L207.0,156.2L207.2,168.1L207.5,173.5L207.8,161.4L208.1,166.7L208.3,162.4L208.6,154.3L208.9,162.5L209.1,163.2L209.4,157.9L209.7,168.4L209.9,171.0L210.2,165.8L210.5,169.7L210.8,163.0L211.0,154.1L211.3,159.3L211.6,158.4L211.8,157.0L212.1,164.1L212.4,149.4L212.6,152.2L212.9,152.9L213.2,160.3L213.5,158.4L213.7,167.3L214.0,159.3L214.3,171.7L214.5,157.4L214.8,160.9L215.1,162.6L215.3,171.5L215.6,166.9L215.9,161.6L216.2,165.3L216.4,157.6L216.7,166.7L217.0,157.2L217.2,156.7L217.5,160.9L217.8,162.9L218.0,160.0L218.3,164.3L218.6,152.8L218.9,154.3L219.1,154.2L219.4,163.2L219.7,157.6L219.9,154.1L220.2,166.6L220.5,159.3L220.7,155.9L221.0,157.3L221.3,155.7L221.6,158.5L221.8,161.4L222.1,170.0L222.4,155.3L222.6,158.3L222.9,158.9L223.2,160.0L223.4,157.6L223.7,165.4L224.0,166.3L224.3,159.5L224.5,154.2L224.8,149.2L225.1,154.0L225.3,147.4L225.6,149.9L225.9,159.2L226.1,156.2L226.4,147.1L226.7,150.3L227.0,154.7L227.2,157.1L227.5,151.1L227.8,156.0L228.0,152.5L228.3,147.5L228.6,146.9L228.8,146.9L229.1,158.5L229.4,157.0L229.7,146.8L229.9,160.6L230.2,168.9L230.5,165.2L230.7,158.0L231.0,151.2L231.3,159.3L231.5,153.4L231.8,152.1L232.1,156.0L232.4,146.7L232.6,159.5L232.9,154.1L233.2,155.7L233.4,164.6L233.7,154.9L234.0,157.8L234.2,160.5L234.5,153.6L234.8,146.3L235.1,159.1L235.3,153.3L235.6,158.1L235.9,158.0L236.1,146.4L236.4,157.4L236.7,145.8L236.9,149.7L237.2,146.6L237.5,146.4L237.8,152.0L238.0,164.2L238.3,161.8L238.6,161.5L238.8,148.9L239.1,156.2L239.4,147.9L239.6,146.1L239.9,150.1L240.2,151.5L240.5,148.4L240.7,156.3L241.0,153.3L241.3,154.8L241.5,144.4L241.8,144.4L242.1,144.3L242.3,146.3L242.6,147.9L242.9,148.5L243.2,162.1L243.4,160.1L243.7,149.3L244.0,146.8L244.2,144.3L244.5,143.6L244.8,151.4L245.0,159.0L245.3,152.1L245.6,149.8L245.9,158.9L246.1,152.7L246.4,143.7L246.7,158.2L246.9,154.4L247.2,159.4L247.5,153.4L247.7,155.4L248.0,148.2L248.3,153.4L248.6,152.7L248.8,155.1L249.1,149.1L249.4,153.6L249.6,150.5L249.9,155.0L250.2,153.3L250.4,159.4L250.7,155.8L251.0,154.1L251.3,159.5L251.5,166.4L251.8,149.5L252.1,140.9L252.3,143.6L252.6,146.4L252.9,147.0L253.1,153.4L253.4,154.5L253.7,154.1L254.0,157.8L254.2,153.2L254.5,152.2L254.8,163.0L255.0,147.2L255.3,150.2L255.6,153.0L255.8,150.3L256.1,155.3L256.4,147.4L256.7,153.8L256.9,150.1L257.2,161.1L257.5,156.6L257.7,163.2L258.0,155.0L258.3,151.0L258.5,150.4L258.8,153.7L259.1,155.9L259.4,156.8L259.6,150.1L259.9,164.7L260.2,162.0L260.4,159.8L260.7,156.6L261.0,160.4L261.2,151.2L261.5,160.2L261.8,149.6L262.1,157.5L262.3,156.6L262.6,159.5L262.9,155.4L263.1,152.2L263.4,160.1L263.7,162.0L263.9,165.5L264.2,167.5L264.5,160.9L264.8,161.9L265.0,167.2L265.3,173.1L265.6,161.3L265.8,160.8L266.1,152.8L266.4,159.4L266.6,167.7L266.9,169.6L267.2,174.1L267.5,174.2L267.7,171.5L268.0,167.5L268.3,168.8L268.5,159.8L268.8,161.3L269.1,174.1L269.3,164.4L269.6,167.2L269.9,158.4L270.2,158.9L270.4,174.7L270.7,164.1L271.0,175.3L271.2,167.8L271.5,176.2L271.8,167.7L272.0,161.6L272.3,157.1L272.6,167.1L272.9,163.1L273.1,169.9L273.4,167.5L273.7,164.4L273.9,171.4L274.2,164.3L274.5,168.8L274.7,163.0L275.0,169.4L275.3,162.2L275.6,168.3L275.8,173.5L276.1,168.8L276.4,171.1L276.6,174.6L276.9,169.7L277.2,171.5L277.4,177.8L277.7,172.3L278.0,162.3L278.3,162.0L278.5,171.7L278.8,169.5L279.1,170.3L279.3,165.7L279.6,162.3L279.9,156.8L280.1,165.3L280.4,170.0L280.7,169.1L281.0,178.0L281.2,155.9L281.5,164.0L281.8,171.3L282.0,167.5L282.3,158.2L282.6,163.7L282.8,171.3L283.1,160.6L283.4,156.5L283.7,158.3L283.9,168.7L284.2,166.9L284.5,158.7L284.7,170.6L285.0,181.0L285.3,178.2L285.5,174.0L285.8,165.0L286.1,170.4L286.4,161.8L286.6,161.4L286.9,161.3L287.2,162.6L287.4,179.8L287.7,178.5L288.0,179.4L288.2,184.4L288.5,182.6L288.8,181.8L289.1,177.9L289.3,171.1L289.6,172.1L289.9,167.2L290.1,158.7L290.4,171.6L290.7,169.5L290.9,163.4L291.2,172.9L291.5,175.1L291.8,162.6L292.0,168.7L292.3,185.1L292.6,178.4L292.8,167.9L293.1,168.8L293.4,177.7L293.6,175.0L293.9,190.2L294.2,169.8L294.5,162.2L294.7,172.9L295.0,182.7L295.3,188.1L295.5,187.1L295.8,182.3L296.1,180.8L296.3,180.3L296.6,173.0L296.9,179.4L297.2,178.0L297.4,165.2L297.7,176.6L298.0,171.8L298.2,191.6L298.5,175.1L298.8,179.6L299.0,174.9L299.3,167.1L299.6,179.3L299.9,176.1L300.1,178.4L300.4,183.2L300.7,182.6L300.9,180.7L301.2,179.7L301.5,183.3L301.7,189.3L302.0,188.3L302.3,186.5L302.5,187.5L302.8,175.6L303.1,174.8L303.4,196.5L303.6,191.3L303.9,186.5L304.2,199.9L304.4,193.0L304.7,188.1L305.0,200.8L305.2,194.9L305.5,195.7L305.8,194.3L306.1,185.2L306.3,190.5L306.6,190.8L306.9,193.7L307.1,206.3L307.4,202.0L307.7,188.5L307.9,199.6L308.2,204.9L308.5,204.7L308.8,205.9L309.0,202.9L309.3,196.8L309.6,205.6L309.8,207.8L310.1,198.4L310.4,206.4L310.6,202.0L310.9,199.2L311.2,203.4L311.5,194.9L311.7,202.5L312.0,202.8L312.3,192.8L312.5,211.8L312.8,194.4L313.1,203.7L313.3,204.2L313.6,197.1L313.9,201.1L314.2,203.8L314.4,203.9L314.7,198.4L315.0,206.0L315.2,214.6L315.5,206.1L315.8,209.9L316.0,207.1L316.3,200.5L316.6,193.4L316.9,196.1L317.1,206.6L317.4,195.4L317.7,198.1L317.9,219.5L318.2,231.6L318.5,208.5L318.7,217.2L319.0,219.3L319.3,204.5L319.6,208.6L319.8,195.9L320.1,210.7L320.4,196.6L320.6,203.4L320.9,229.1L321.2,216.0L321.4,213.2L321.7,217.3L322.0,222.3L322.3,221.8L322.5,200.7L322.8,216.1L323.1,205.6L323.3,228.5L323.6,212.5L323.9,208.8L324.1,219.0L324.4,227.7L324.7,221.2L325.0,201.3L325.2,244.5L325.5,222.1L325.8,222.6L326.0,214.2L326.3,224.6L326.6,224.1L326.8,226.0L327.1,225.1L327.4,213.1L327.7,219.9L327.9,219.3L328.2,227.1L328.5,216.9L328.7,220.4L329.0,233.7L329.3,231.1L329.5,220.1L329.8,238.8L330.1,215.8L330.4,222.9L330.6,221.6L330.9,229.0" stroke="#9467bd"/>
<path d="M405.0,215.7L405.3,238.2L405.5,243.6L405.8,240.9L406.1,232.9L406.3,227.7L406.6,237.2L406.9,220.1L407.2,221.4L407.4,237.0L407.7,220.1L408.0,235.7L408.2,224.9L408.5,234.5L408.8,224.3L409.0,226.3L409.3,231.5L409.6,203.9L409.9,218.1L410.1,213.1L410.4,213.1L410.7,205.6L410.9,198.7L411.2,194.6L411.5,210.0L411.7,190.1L412.0,202.2L412.3,202.5L412.6,204.5L412.8,205.2L413.1,203.8L413.4,203.0L413.6,189.3L413.9,196.2L414.2,196.8L414.4,196.9L414.7,197.9L415.0,193.7L415.3,194.2L415.5,192.3L415.8,180.6L416.1,185.5L416.3,197.8L416.6,179.9L416.9,188.1L417.1,189.0L417.4,180.6L417.7,183.8L418.0,175.7L418.2,173.8L418.5,192.9L418.8,197.4L419.0,176.5L419.3,166.8L419.6,178.0L419.8,175.2L420.1,165.2L420.4,170.4L420.7,164.1L420.9,166.4L421.2,180.1L421.5,173.8L421.7,179.7L422.0,187.9L422.3,169.6L422.5,168.8L422.8,175.2L423.1,183.2L423.4,172.0L423.6,160.6L423.9,169.9L424.2,175.6L424.4,186.1L424.7,182.4L425.0,167.2L425.2,173.1L425.5,160.6L425.8,181.9L426.1,162.3L426.3,170.5L426.6,159.6L426.9,162.7L427.1,172.7L427.4,172.3L427.7,164.6L427.9,164.6L428.2,164.4L428.5,164.7L428.8,173.2L429.0,180.7L429.3,170.2L429.6,174.4L429.8,160.9L430.1,168.1L430.4,166.4L430.6,172.1L430.9,160.1L431.2,167.0L431.5,178.8L431.7,181.3L432.0,176.8L432.3,167.1L432.5,160.2L432.8,167.6L433.1,159.3L433.3,164.0L433.6,157.4L433.9,164.5L434.2,157.2L434.4,172.9L434.7,166.6L435.0,162.7L435.2,168.1L435.5,161.1L435.8,174.2L436.0,165.9L436.3,164.0L436.6,173.4L436.9,162.1L437.1,165.2L437.4,155.3L437.7,160.9L437.9,177.7L438.2,165.1L438.5,158.3L438.7,164.2L439.0,158.9L439.3,162.2L439.6,162.2L439.8,159.9L440.1,168.1L440.4,155.8L440.6,155.9L440.9,159.5L441.2,156.0L441.4,172.9L441.7,160.5L442.0,167.3L442.3,156.4L442.5,167.2L442.8,168.9L443.1,168.9L443.3,161.8L443.6,164.7L443.9,160.4L444.1,158.1L444.4,170.8L444.7,161.3L445.0,176.8L445.2,165.9L445.5,170.3L445.8,166.9L446.0,169.8L446.3,171.3L446.6,163.1L446.8,164.0L447.1,164.7L447.4,171.5L447.7,165.3L447.9,172.8L448.2,172.7L448.5,167.5L448.7,157.9L449.0,170.2L449.3,171.3L449.5,170.1L449.8,170.1L450.1,165.1L450.4,169.5L450.6,176.2L450.9,159.6L451.2,175.4L451.4,171.7L451.7,176.4L452.0,170.0L452.2,159.7L452.5,173.8L452.8,161.5L453.1,167.8L453.3,159.2L453.6,164.6L453.9,173.9L454.1,177.3L454.4,165.4L454.7,177.4L454.9,168.0L455.2,173.2L455.5,167.3L455.8,171.5L456.0,169.6L456.3,182.4L456.6,173.9L456.8,172.9L457.1,168.7L457.4,176.0L457.6,174.2L457.9,180.2L458.2,170.3L458.5,168.6L458.7,184.2L459.0,177.6L459.3,161.7L459.5,171.5L459.8,174.9L460.1,183.6L460.3,178.8L460.6,179.8L460.9,185.6L461.2,172.8L461.4,169.7L461.7,176.8L462.0,173.7L462.2,178.2L462.5,165.7L462.8,176.2L463.0,174.4L463.3,171.2L463.6,183.5L463.9,174.9L464.1,180.8L464.4,178.5L464.7,183.5L464.9,174.0L465.2,176.0L465.5,178.3L465.7,175.0L466.0,179.1L466.3,174.8L466.6,187.0L466.8,190.4L467.1,180.0L467.4,191.0L467.6,179.2L467.9,171.0L468.2,186.7L468.4,180.9L468.7,174.2L469.0,181.9L469.3,178.7L469.5,173.9L469.8,186.6L470.1,191.1L470.3,178.7L470.6,185.2L470.9,169.5L471.1,178.0L471.4,188.2L471.7,186.4L472.0,182.9L472.2,192.4L472.5,180.4L472.8,188.8L473.0,193.2L473.3,181.0L473.6,187.0L473.8,192.3L474.1,177.9L474.4,188.2L474.7,189.3L474.9,184.2L475.2,185.6L475.5,182.5L475.7,198.0L476.0,191.1L476.3,193.4L476.5,188.8L476.8,176.6L477.1,180.3L477.4,201.0L477.6,189.2L477.9,204.2L478.2,196.9L478.4,198.4L478.7,199.0L479.0,189.9L479.2,191.6L479.5,185.0L479.8,198.7L480.1,186.5L480.3,189.7L480.6,178.8L480.9,185.1L481.1,194.2L481.4,197.7L481.7,197.4L481.9,197.1L482.2,206.5L482.5,202.8L482.8,209.4L483.0,192.1L483.3,193.5L483.6,201.0L483.8,185.9L484.1,209.9L484.4,198.7L484.6,196.6L484.9,201.1L485.2,208.7L485.5,197.8L485.7,194.6L486.0,190.1L486.3,203.0L486.5,193.0L486.8,204.1L487.1,197.5L487.3,211.1L487.6,187.6L487.9,193.9L488.2,188.4L488.4,199.6L488.7,197.8L489.0,190.1L489.2,200.5L489.5,207.9L489.8,205.4L490.0,208.3L490.3,193.7L490.6,205.3L490.9,215.1L491.1,207.5L491.4,208.6L491.7,214.8L491.9,218.2L492.2,201.7L492.5,201.1L492.7,208.2L493.0,205.0L493.3,202.3L493.6,206.4L493.8,218.8L494.1,203.4L494.4,204.3L494.6,212.9L494.9,207.8L495.2,214.9L495.4,211.2L495.7,209.2L496.0,214.3" stroke="#e377c2"/>
<path d="M299.0,215.5L299.3,222.7L299.5,218.8L299.8,217.8L300.1,218.8L300.3,217.3L300.6,211.3L300.9,221.8L301.2,225.3L301.4,222.8L301.7,219.8L302.0,219.6L302.2,222.1L302.5,228.6L302.8,212.2L303.0,216.4L303.3,219.8L303.6,219.1L303.9,223.5L304.1,228.7L304.4,221.3L304.7,225.1L304.9,218.9L305.2,218.1L305.5,212.3L305.7,211.2L306.0,203.5L306.3,217.7L306.6,218.5L306.8,210.7L307.1,218.7L307.4,209.0L307.6,218.3L307.9,208.1L308.2,215.9L308.4,203.0L308.7,205.6L309.0,212.9L309.3,205.0L309.5,198.1L309.8,208.9L310.1,196.7L310.3,202.3L310.6,214.6L310.9,196.2L311.1,202.0L311.4,223.4L311.7,198.2L312.0,196.7L312.2,203.5L312.5,207.2L312.8,206.2L313.0,185.0L313.3,209.0L313.6,203.5L313.8,184.3L314.1,197.3L314.4,183.8L314.7,216.8L314.9,185.0L315.2,204.2L315.5,198.9L315.7,188.0L316.0,216.6L316.3,197.6L316.5,202.4L316.8,194.6L317.1,193.0L317.4,195.0L317.6,187.6L317.9,187.9L318.2,194.3L318.4,196.7L318.7,201.0L319.0,217.4L319.2,205.6L319.5,192.2L319.8,189.4L320.1,199.9L320.3,188.3L320.6,185.2L320.9,185.8L321.1,191.0L321.4,188.8L321.7,190.9L321.9,188.0L322.2,183.6L322.5,197.6L322.8,187.4L323.0,182.4L323.3,192.4L323.6,191.0L323.8,187.6L324.1,197.3L324.4,200.0L324.6,196.7L324.9,180.7L325.2,190.7L325.5,179.5L325.7,193.5L326.0,199.8L326.3,173.0L326.5,207.0L326.8,196.6L327.1,172.6L327.3,200.4L327.6,195.2L327.9,187.2L328.2,185.6L328.4,192.9L328.7,188.8L329.0,171.5L329.2,195.3L329.5,190.7L329.8,182.0L330.0,187.2L330.3,192.1L330.6,190.1L330.9,200.1L331.1,195.4L331.4,194.9L331.7,190.8L331.9,175.2L332.2,171.3L332.5,169.4L332.7,179.0L333.0,181.8L333.3,187.9L333.6,192.0L333.8,180.2L334.1,177.6L334.4,192.5L334.6,180.0L334.9,183.9L335.2,191.9L335.4,173.9L335.7,184.1L336.0,176.6L336.3,168.2L336.5,172.7L336.8,186.6L337.1,183.2L337.3,184.1L337.6,184.2L337.9,190.0L338.1,175.4L338.4,177.9L338.7,180.1L339.0,180.0L339.2,177.5L339.5,187.5L339.8,175.2L340.0,178.3L340.3,174.3L340.6,174.2L340.8,176.0L341.1,175.0L341.4,183.2L341.7,176.0L341.9,176.5L342.2,178.1L342.5,182.4L342.7,178.8L343.0,171.8L343.3,171.8L343.5,180.5L343.8,177.7L344.1,171.1L344.4,174.4L344.6,184.9L344.9,173.1L345.2,180.0L345.4,185.4L345.7,169.7L346.0,176.6L346.2,183.3L346.5,178.8L346.8,179.7L347.1,185.0L347.3,185.7L347.6,179.4L347.9,192.2L348.1,178.3L348.4,181.0L348.7,176.3L348.9,177.0L349.2,170.8L349.5,171.3L349.8,176.1L350.0,180.5L350.3,178.7L350.6,178.1L350.8,182.9L351.1,183.7L351.4,172.0L351.6,173.3L351.9,174.7L352.2,180.1L352.5,183.8L352.7,174.3L353.0,172.4L353.3,187.8L353.5,193.1L353.8,172.0L354.1,171.1L354.3,179.6L354.6,179.8L354.9,174.0L355.2,173.7L355.4,176.6L355.7,178.9L356.0,173.0L356.2,178.0L356.5,174.3L356.8,176.2L357.0,176.8L357.3,180.4L357.6,171.9L357.9,175.9L358.1,176.8L358.4,174.6L358.7,179.7L358.9,194.1L359.2,172.8L359.5,177.6L359.7,177.5L360.0,182.2L360.3,192.2L360.6,188.8L360.8,175.4L361.1,185.2L361.4,176.0L361.6,173.7L361.9,192.2L362.2,182.4L362.4,188.0L362.7,193.6L363.0,176.9L363.3,183.8L363.5,184.1L363.8,181.1L364.1,186.6L364.3,199.2L364.6,188.8L364.9,175.5L365.1,191.3L365.4,192.3L365.7,172.1L366.0,171.9L366.2,176.2L366.5,189.5L366.8,188.3L367.0,177.2L367.3,181.4L367.6,196.8L367.8,191.9L368.1,177.9L368.4,196.5L368.7,192.4L368.9,192.0L369.2,174.8L369.5,186.0L369.7,192.5L370.0,187.3L370.3,190.6L370.5,178.9L370.8,191.2L371.1,190.3L371.4,188.5L371.6,184.1L371.9,190.6L372.2,192.8L372.4,179.6L372.7,199.8L373.0,202.5L373.2,189.4L373.5,202.2L373.8,183.7L374.1,196.4L374.3,183.6L374.6,183.0L374.9,177.9L375.1,181.8L375.4,183.6L375.7,188.9L375.9,176.8L376.2,186.1L376.5,191.6L376.8,182.6L377.0,201.7L377.3,199.0L377.6,200.5L377.8,202.5L378.1,205.8L378.4,192.4L378.6,199.7L378.9,192.1L379.2,197.1L379.5,198.4L379.7,197.5L380.0,206.6L380.3,193.6L380.5,193.1L380.8,197.5L381.1,206.1L381.3,200.4L381.6,189.1L381.9,196.3L382.2,200.0L382.4,195.4L382.7,206.5L383.0,193.0L383.2,200.8L383.5,204.5L383.8,208.3L384.0,198.4L384.3,200.0L384.6,202.0L384.9,197.7L385.1,214.0L385.4,214.2L385.7,202.6L385.9,197.1L386.2,214.1L386.5,211.0L386.7,214.7L387.0,217.6L387.3,211.9L387.6,202.2L387.8,209.9L388.1,206.3L388.4,212.9L388.6,206.3L388.9,203.2L389.2,211.6L389.4,206.7L389.7,201.3L390.0,221.0L390.3,211.1L390.5,203.5L390.8,207.6L391.1,222.1L391.3,221.5L391.6,208.2L391.9,220.5L392.1,223.4L392.4,220.4L392.7,216.8L393.0,205.4L393.2,216.1L393.5,218.3L393.8,208.8L394.0,221.7L394.3,220.3L394.6,225.4L394.8,225.6L395.1,207.6L395.4,212.9L395.7,223.7L395.9,219.4L396.2,223.5L396.5,220.7L396.7,227.1L397.0,227.3L397.3,227.0L397.5,227.8L397.8,223.6" stroke="#17becf"/>
<path d="M268.0,234.8L268.3,235.2L268.5,234.4L268.8,237.5L269.1,243.0L269.3,240.9L269.6,228.6L269.9,244.4L270.2,238.2L270.4,210.0L270.7,228.8L271.0,217.6L271.2,232.5L271.5,219.6L271.8,243.8L272.0,230.6L272.3,226.7L272.6,233.6L272.9,248.1L273.1,246.3L273.4,255.0L273.7,237.2L273.9,228.3L274.2,231.4L274.5,225.9L274.7,225.6L275.0,208.9L275.3,217.8L275.6,240.1L275.8,226.8L276.1,226.5L276.4,250.1L276.6,242.6L276.9,241.3L277.2,216.4L277.4,241.0L277.7,232.1L278.0,255.4L278.3,235.2L278.5,247.5L278.8,220.4L279.1,235.2L279.3,223.2L279.6,255.5L279.9,227.4L280.1,240.6L280.4,221.0L280.7,234.8L281.0,240.8L281.2,240.1L281.5,235.4L281.8,228.2L282.0,228.1L282.3,231.4L282.6,237.3L282.8,211.1L283.1,209.8L283.4,213.5L283.7,216.1L283.9,238.9L284.2,226.1L284.5,228.3L284.7,230.1L285.0,228.0L285.3,211.5L285.5,219.5L285.8,211.8L286.1,214.6L286.4,197.7L286.6,201.9L286.9,190.3L287.2,218.4L287.4,226.4L287.7,222.0L288.0,214.7L288.2,213.2L288.5,217.9L288.8,218.5L289.1,236.7L289.3,218.3L289.6,221.7L289.9,209.5L290.1,222.5L290.4,214.0L290.7,219.1L290.9,192.0L291.2,212.1L291.5,230.7L291.8,213.3L292.0,218.8L292.3,217.0L292.6,207.0L292.8,207.1L293.1,189.6L293.4,220.1L293.6,217.4L293.9,210.8L294.2,220.5L294.5,219.9L294.7,201.8L295.0,205.9L295.3,204.4L295.5,208.7L295.8,211.7L296.1,189.4L296.3,195.2L296.6,194.2L296.9,218.0L297.2,207.2L297.4,233.6L297.7,227.8L298.0,207.0L298.2,214.0L298.5,217.1L298.8,225.4L299.0,197.9L299.3,211.9L299.6,230.8L299.9,204.4L300.1,212.2L300.4,231.7L300.7,196.8L300.9,238.6L301.2,210.8L301.5,221.0L301.7,221.7L302.0,217.3L302.3,195.3L302.6,210.3L302.8,223.4L303.1,219.9L303.4,200.8L303.6,210.5L303.9,201.6L304.2,202.0L304.4,202.0L304.7,212.8L305.0,201.9L305.3,196.5L305.5,227.4L305.8,211.9L306.1,234.5L306.3,206.7L306.6,223.0L306.9,217.4L307.1,227.0L307.4,216.9L307.7,209.3L308.0,210.3L308.2,201.0L308.5,206.0L308.8,215.5L309.0,221.0L309.3,204.6L309.6,200.8L309.8,193.3L310.1,195.6L310.4,200.7L310.7,189.9L310.9,191.0L311.2,200.9L311.5,205.9L311.7,191.9L312.0,183.0L312.3,183.0L312.5,207.4L312.8,182.8L313.1,182.8L313.4,197.7L313.6,184.4L313.9,189.7L314.2,212.8L314.4,197.8L314.7,224.9L315.0,195.3L315.2,207.0L315.5,213.6L315.8,195.5L316.1,212.5L316.3,206.5L316.6,214.0L316.9,199.9L317.1,204.0L317.4,203.9L317.7,189.1L317.9,205.7L318.2,212.6L318.5,205.9L318.8,201.5L319.0,209.0L319.3,210.9L319.6,224.1L319.8,213.2L320.1,224.0L320.4,199.2L320.6,205.4L320.9,192.2L321.2,206.1L321.5,221.1L321.7,213.2L322.0,205.7L322.3,200.0L322.5,201.9L322.8,198.0L323.1,189.4L323.3,202.0L323.6,221.8L323.9,192.0L324.2,203.5L324.4,184.9L324.7,208.8L325.0,215.1L325.2,222.8L325.5,222.8L325.8,206.6L326.0,211.5L326.3,213.2L326.6,210.1L326.9,214.0L327.1,221.1L327.4,200.6L327.7,221.7L327.9,206.4L328.2,218.4L328.5,213.4L328.7,204.9L329.0,209.7L329.3,201.7L329.6,203.4L329.8,199.2L330.1,203.1L330.4,211.7L330.6,213.7L330.9,196.9" stroke="#1f77b4"/>
<path d="M476.0,205.5L476.3,210.7L476.5,213.5L476.8,206.5L477.1,204.1L477.3,197.8L477.6,197.6L477.9,213.1L478.2,208.6L478.4,204.4L478.7,215.1L479.0,206.1L479.2,206.5L479.5,202.9L479.8,204.5" stroke="#1f77b4"/>
<path d="M340.0,252.0L340.3,244.5L340.5,244.7L340.8,256.9L341.1,250.8L341.3,252.2L341.6,249.3L341.9,238.7L342.2,236.7L342.4,243.4L342.7,231.0L343.0,244.6L343.2,239.9L343.5,241.0L343.8,231.4L344.0,235.4L344.3,244.7L344.6,238.4L344.9,256.4L345.1,225.5L345.4,239.8L345.7,226.8L345.9,233.0L346.2,245.5L346.5,227.2L346.7,239.3L347.0,234.2L347.3,235.9L347.6,223.1L347.8,230.4L348.1,253.9L348.4,239.4L348.6,215.0L348.9,219.8L349.2,217.5L349.4,244.6L349.7,215.8L350.0,209.4L350.3,207.8L350.5,206.6L350.8,229.9L351.1,224.5L351.3,230.3L351.6,242.5L351.9,210.3L352.1,222.6L352.4,224.3L352.7,212.5L353.0,212.1L353.2,214.2L353.5,207.9L353.8,213.7L354.0,218.7L354.3,217.6L354.6,200.3L354.8,226.3L355.1,215.8L355.4,221.0L355.7,213.2L355.9,207.1L356.2,215.5L356.5,214.3L356.7,196.7L357.0,202.2L357.3,190.7L357.5,193.3L357.8,202.2L358.1,201.6L358.4,193.6L358.6,199.1L358.9,201.2L359.2,190.9L359.4,202.7L359.7,198.2L360.0,201.3L360.2,195.1L360.5,196.7L360.8,196.9L361.1,196.4L361.3,193.6L361.6,193.8L361.9,195.2L362.1,195.2L362.4,196.9L362.7,198.1L362.9,188.8L363.2,195.2L363.5,189.5L363.8,192.3L364.0,203.5L364.3,191.9L364.6,193.2L364.8,210.7L365.1,191.0L365.4,206.4L365.6,199.6L365.9,181.1L366.2,189.5L366.5,201.6L366.7,181.2L367.0,185.4L367.3,187.9L367.5,186.5L367.8,200.8L368.1,177.9L368.3,180.1L368.6,184.9L368.9,176.8L369.2,191.9L369.4,184.0L369.7,183.1L370.0,175.4L370.2,180.9L370.5,194.2L370.8,181.5L371.0,184.8L371.3,188.7L371.6,191.4L371.9,192.6L372.1,191.2L372.4,195.7L372.7,200.4L372.9,188.8L373.2,189.0L373.5,172.8L373.7,174.7L374.0,173.2L374.3,191.2L374.6,184.1L374.8,177.9L375.1,185.7L375.4,187.8L375.6,184.6L375.9,184.9L376.2,189.6L376.4,181.4L376.7,187.1L377.0,166.2L377.3,173.4L377.5,192.2L377.8,185.7L378.1,189.1L378.3,183.2L378.6,177.1L378.9,167.7L379.1,163.7L379.4,170.3L379.7,164.0L380.0,167.5L380.2,177.3L380.5,177.1L380.8,187.3L381.0,174.3L381.3,171.2L381.6,178.9L381.8,169.5L382.1,172.2L382.4,168.6L382.7,174.1L382.9,171.2L383.2,170.0L383.5,178.7L383.7,173.4L384.0,166.1L384.3,179.3L384.5,174.8L384.8,169.3L385.1,170.4L385.4,178.5L385.6,178.1L385.9,177.6L386.2,177.2L386.4,166.5L386.7,169.8L387.0,166.3L387.2,159.8L387.5,167.0L387.8,170.4L388.1,171.7L388.3,157.4L388.6,168.5L388.9,166.6L389.1,164.2L389.4,167.4L389.7,156.8L389.9,167.4L390.2,168.6L390.5,170.2L390.8,156.5L391.0,166.0L391.3,163.5L391.6,159.0L391.8,163.0L392.1,162.7L392.4,161.3L392.6,164.7L392.9,164.9L393.2,159.2L393.5,166.1L393.7,162.8L394.0,169.3L394.3,161.8L394.5,159.2L394.8,173.8L395.1,167.4L395.3,161.2L395.6,170.5L395.9,162.7L396.2,175.9L396.4,167.3L396.7,170.2L397.0,165.5L397.2,173.3L397.5,174.1L397.8,172.0L398.0,162.1L398.3,167.4L398.6,169.1L398.9,165.6L399.1,163.2L399.4,163.5L399.7,169.3L399.9,174.1L400.2,172.1L400.5,172.4L400.7,164.9L401.0,160.1L401.3,165.6L401.6,164.0L401.8,164.3L402.1,166.4L402.4,160.9L402.6,156.4L402.9,159.1L403.2,159.7L403.4,162.2L403.7,166.1L404.0,159.2L404.3,174.8L404.5,176.8L404.8,172.9L405.1,167.8L405.3,165.7L405.6,166.4L405.9,165.7L406.1,167.2L406.4,165.6L406.7,167.0L407.0,174.0L407.2,162.0L407.5,163.4L407.8,163.4L408.0,167.3L408.3,174.1L408.6,171.7L408.8,172.5L409.1,173.0L409.4,176.2L409.7,168.0L409.9,167.5L410.2,167.6L410.5,176.6L410.7,166.8L411.0,166.3L411.3,161.3L411.5,176.1L411.8,168.2L412.1,168.9L412.4,178.4L412.6,169.8L412.9,172.3L413.2,165.0L413.4,159.2L413.7,173.3L414.0,169.9L414.2,158.8L414.5,178.1L414.8,172.9L415.1,172.8L415.3,171.3L415.6,180.7L415.9,175.3L416.1,171.9L416.4,159.4L416.7,169.1L416.9,164.1L417.2,159.7L417.5,165.7L417.8,160.8L418.0,170.0L418.3,169.1L418.6,171.4L418.8,172.0L419.1,167.2L419.4,170.6L419.6,170.9L419.9,171.4L420.2,169.0L420.5,170.8L420.7,164.2L421.0,164.8L421.3,173.0L421.5,177.6L421.8,171.0L422.1,174.7L422.3,165.3L422.6,167.7L422.9,162.2L423.2,169.0L423.4,176.0L423.7,165.5L424.0,162.9L424.2,178.7L424.5,175.6L424.8,181.0L425.0,178.6L425.3,178.5L425.6,181.0L425.9,171.1L426.1,171.0L426.4,183.8L426.7,168.8L426.9,187.5L427.2,180.1L427.5,181.1L427.7,177.9L428.0,182.2L428.3,178.9L428.6,167.4L428.8,168.1L429.1,167.5L429.4,175.9L429.6,182.4L429.9,179.3L430.2,175.4L430.4,177.5L430.7,175.0L431.0,171.2L431.3,184.5L431.5,181.8L431.8,185.7L432.1,176.7L432.3,175.9L432.6,177.8L432.9,184.0L433.1,192.9L433.4,175.2L433.7,171.0L434.0,176.8L434.2,174.0L434.5,176.8L434.8,178.0L435.0,176.1L435.3,183.2L435.6,188.0L435.8,183.6L436.1,191.8L436.4,186.2L436.7,184.4L436.9,182.1L437.2,188.6L437.5,190.7L437.7,185.9L438.0,186.3L438.3,196.6L438.5,187.4L438.8,195.8L439.1,199.3L439.4,199.2L439.6,191.4L439.9,208.2L440.2,200.1L440.4,195.2L440.7,199.1L441.0,185.1L441.2,189.1L441.5,181.4L441.8,201.0L442.1,206.9L442.3,194.0L442.6,187.4L442.9,192.2L443.1,195.6L443.4,191.1L443.7,193.6L443.9,190.2L444.2,202.6L444.5,188.4L444.8,198.8L445.0,188.3L445.3,186.7L445.6,180.9L445.8,203.1L446.1,181.4L446.4,183.7L446.6,192.6L446.9,195.6L447.2,198.3L447.5,199.5L447.7,204.6L448.0,205.3L448.3,183.1L448.5,193.1L448.8,183.5L449.1,188.6L449.3,191.8L449.6,191.6L449.9,192.8L450.2,192.7L450.4,191.1L450.7,208.9L451.0,199.1L451.2,190.8L451.5,189.1L451.8,185.9L452.0,198.2L452.3,195.2L452.6,195.9L452.9,188.4L453.1,186.7L453.4,200.5L453.7,188.2L453.9,187.6L454.2,201.1L454.5,197.4L454.7,193.1L455.0,191.7L455.3,192.2L455.6,199.4L455.8,207.0L456.1,205.3L456.4,188.3L456.6,193.1L456.9,200.0L457.2,188.7L457.4,193.0L457.7,203.3L458.0,189.1L458.3,193.2L458.5,198.4L458.8,193.9L459.1,209.9L459.3,199.6L459.6,192.7L459.9,209.7L460.1,193.7L460.4,197.5L460.7,190.7L461.0,216.9L461.2,206.4L461.5,207.7L461.8,216.7L462.0,211.3L462.3,199.1L462.6,206.3L462.8,196.9L463.1,197.8L463.4,197.2L463.7,206.9L463.9,210.7L464.2,213.1L464.5,200.5L464.7,198.4L465.0,196.6L465.3,195.0L465.5,206.4L465.8,195.5L466.1,198.1L466.4,206.9L466.6,198.5L466.9,199.3" stroke="#bcbd22"/>
<path d="M259.0,199.0L259.3,223.1L259.5,228.5L259.8,225.2L260.1,216.3L260.3,210.4L260.6,219.9L260.9,201.7L261.2,202.6L261.4,218.2L261.7,200.6L262.0,215.8L262.2,205.4L262.5,216.0L262.8,206.3L263.0,209.0L263.3,215.4L263.6,186.6L263.9,202.7L264.1,198.0L264.4,198.8L264.7,191.1L264.9,183.8L265.2,179.7L265.5,198.6L265.7,175.5L266.0,191.0L266.3,191.6L266.6,194.3L266.8,195.4L267.1,194.0L267.4,193.2L267.6,177.4L267.9,185.7L268.2,186.6L268.4,187.0L268.7,188.3L269.0,183.9L269.3,184.6L269.5,182.7L269.8,169.8L270.1,175.5L270.3,189.3L270.6,169.9L270.9,179.0L271.1,180.4L271.4,171.7L271.7,175.5L272.0,167.2L272.2,165.5L272.5,186.5L272.8,191.8L273.0,169.5L273.3,159.4L273.6,172.0L273.8,169.3L274.1,158.9L274.4,164.9L274.7,158.6L274.9,161.4L275.2,176.6L275.5,170.2L275.7,176.9L276.0,186.1L276.3,166.4L276.5,165.5L276.8,172.4L277.1,181.0L277.4,169.0L277.6,156.6L277.9,166.6L278.2,172.9L278.4,184.5L278.7,180.6L279.0,164.1L279.2,170.8L279.5,157.0L279.8,180.9L280.1,159.0L280.3,168.4L280.6,156.1L280.9,159.8L281.1,171.4L281.4,171.1L281.7,162.3L281.9,162.4L282.2,162.3L282.5,162.8L282.8,173.1L283.0,182.4L283.3,169.9L283.6,175.3L283.8,158.8L284.1,167.7L284.4,165.6L284.6,172.7L284.9,157.8L285.2,166.4L285.5,181.3L285.7,184.5L286.0,178.9L286.3,166.5L286.5,157.8L286.8,167.1L287.1,156.7L287.3,162.6L287.6,154.3L287.9,163.0L288.2,153.9L288.4,173.4L288.7,165.6L289.0,160.8L289.2,167.3L289.5,158.7L289.8,174.8L290.0,164.6L290.3,162.2L290.6,173.5L290.9,159.8L291.1,163.5L291.4,151.5L291.7,158.2L291.9,178.3L292.2,163.1L292.5,154.8L292.7,161.6L293.0,155.1L293.3,158.8L293.6,158.6L293.8,155.8L294.1,165.1L294.4,150.5L294.6,150.4L294.9,154.4L295.2,150.2L295.4,169.4L295.7,154.9L296.0,162.5L296.3,149.8L296.5,161.8L296.8,163.4L297.1,163.2L297.3,155.0L297.6,158.1L297.9,153.1L298.1,150.4L298.4,164.0L298.7,153.4L299.0,169.9L299.2,157.9L299.5,162.3L299.8,158.5L300.0,161.3L300.3,162.7L300.6,153.9L300.8,154.6L301.1,155.2L301.4,161.9L301.7,155.5L301.9,162.7L302.2,162.3L302.5,157.0L302.7,147.8L303.0,159.3L303.3,160.1L303.5,158.7L303.8,158.5L304.1,153.9L304.4,157.6L304.6,163.2L304.9,148.6L305.2,161.6L305.4,157.7L305.7,160.8L306.0,154.8L306.2,146.1L306.5,156.4L306.8,146.3L307.1,150.2L307.3,143.1L307.6,145.7L307.9,150.1L308.1,150.4L308.4,142.9L308.7,146.1L308.9,141.0L309.2,139.7L309.5,140.3L309.8,143.6L310.0,145.1L310.3,155.6L310.6,153.2L310.8,155.4L311.1,155.0L311.4,163.2L311.6,163.6L311.9,169.0L312.2,162.4L312.5,162.1L312.7,174.5L313.0,170.5L313.3,160.0L313.5,167.7L313.8,169.3L314.1,174.9L314.3,170.6L314.6,170.6L314.9,174.4L315.2,163.2L315.4,159.6L315.7,164.4L316.0,160.7L316.2,163.3L316.5,151.4L316.8,159.3L317.0,156.8L317.3,153.7L317.6,164.2L317.9,156.5L318.1,161.3L318.4,159.1L318.7,163.0L318.9,154.8L319.2,156.3L319.5,157.9L319.7,155.0L320.0,158.0L320.3,154.4L320.6,163.8L320.8,166.2L321.1,157.8L321.4,165.9L321.6,156.8L321.9,150.4L322.2,162.0L322.4,157.5L322.7,152.4L323.0,158.0L323.3,155.5L323.5,151.9L323.8,161.1L324.1,164.3L324.3,154.9L324.6,159.6L324.9,147.9L325.1,153.9L325.4,161.3L325.7,159.8L326.0,157.0L326.2,163.8L326.5,154.8L326.8,160.8L327.0,163.8L327.3,154.7L327.6,158.9L327.8,162.5L328.1,152.1L328.4,159.3L328.7,159.8L328.9,156.1L329.2,156.9L329.5,154.5L329.7,165.4L330.0,160.3L330.3,161.8L330.5,158.4L330.8,149.8L331.1,152.3L331.4,166.5L331.6,158.2L331.9,168.4L332.2,163.3L332.4,164.2L332.7,164.4L333.0,158.2L333.2,159.3L333.5,154.8L333.8,163.8L334.1,155.6L334.3,157.6L334.6,150.4L334.9,154.5L335.1,160.3L335.4,162.4L335.7,162.1L335.9,161.8L336.2,167.6L336.5,165.2L336.8,169.3L337.0,158.2L337.3,158.9L337.6,163.6L337.8,153.9L338.1,168.9L338.4,161.7L338.6,160.3L338.9,162.9L339.2,167.6L339.5,160.7L339.7,158.6L340.0,155.6L340.3,163.5L340.5,157.2L340.8,164.0L341.1,159.8L341.3,168.0L341.6,153.4L341.9,157.2L342.2,153.7L342.4,160.4L342.7,159.1L343.0,154.0L343.2,160.4L343.5,165.1L343.8,163.2L344.0,165.0L344.3,155.0L344.6,162.6L344.9,169.2L345.1,163.8L345.4,164.3L345.7,168.6L345.9,170.9L346.2,158.4L346.5,157.5L346.7,162.2L347.0,159.3L347.3,156.7L347.6,159.2L347.8,167.9L348.1,155.9L348.4,156.0L348.6,161.9L348.9,157.5L349.2,162.3L349.4,159.0L349.7,156.9L350.0,160.2L350.3,168.9L350.5,176.5L350.8,169.6L351.1,167.5L351.3,163.2L351.6,163.9L351.9,173.8L352.1,175.1L352.4,175.3L352.7,167.6L353.0,172.7L353.2,168.3L353.5,161.8L353.8,166.0L354.0,159.4L354.3,166.9L354.6,172.3L354.8,160.7L355.1,172.9L355.4,170.8L355.7,170.4L355.9,184.4L356.2,182.0L356.5,183.3L356.7,173.4L357.0,173.4L357.3,179.3L357.5,167.8L357.8,175.1L358.1,179.8L358.4,174.5L358.6,177.8L358.9,162.7L359.2,167.8L359.4,163.2L359.7,163.4L360.0,163.6L360.2,177.6L360.5,181.6L360.8,182.8L361.1,178.3L361.3,186.7L361.6,171.2L361.9,184.2L362.1,183.9L362.4,176.9L362.7,184.7L362.9,168.8L363.2,182.8L363.5,185.5L363.8,181.8L364.0,190.6L364.3,174.6L364.6,176.0L364.8,186.3L365.1,189.4L365.4,196.2L365.6,177.3L365.9,187.9L366.2,196.6L366.5,181.9L366.7,184.1L367.0,181.1L367.3,191.6L367.5,194.9L367.8,201.3L368.1,193.3L368.3,200.6L368.6,204.4L368.9,196.2L369.2,196.5L369.4,205.2L369.7,185.5L370.0,187.6L370.2,198.1L370.5,184.4L370.8,181.8L371.0,199.9L371.3,191.6L371.6,197.9L371.9,197.8L372.1,203.1L372.4,193.9L372.7,184.2L372.9,194.7L373.2,189.6L373.5,186.6L373.7,178.1L374.0,187.6L374.3,199.2L374.6,196.8L374.8,195.0L375.1,195.0L375.4,193.4L375.6,200.9L375.9,180.8L376.2,187.5L376.4,197.1L376.7,204.7L377.0,189.0L377.3,188.7L377.5,189.5L377.8,197.8L378.1,200.9L378.3,191.8L378.6,198.3L378.9,195.2L379.1,207.5L379.4,238.6L379.7,222.8L380.0,212.1L380.2,202.1L380.5,200.7L380.8,206.2L381.0,203.0L381.3,199.0L381.6,204.7L381.8,198.4L382.1,206.8L382.4,196.3L382.7,205.6L382.9,211.7L383.2,208.9L383.5,205.7L383.7,207.9L384.0,206.2L384.3,213.7L384.5,196.9L384.8,202.0L385.1,209.9L385.4,214.2L385.6,208.8L385.9,208.0L386.2,209.3L386.4,193.6L386.7,198.2L387.0,214.5L387.2,195.8L387.5,190.2L387.8,209.7L388.1,199.6L388.3,195.3L388.6,196.6L388.9,192.5L389.1,203.2L389.4,200.1L389.7,190.3L389.9,190.1L390.2,189.0L390.5,210.6L390.8,206.9L391.0,218.9L391.3,204.2L391.6,185.3L391.8,210.8L392.1,219.3L392.4,208.9L392.6,198.3L392.9,210.7L393.2,215.8L393.5,201.1L393.7,205.8L394.0,194.5L394.3,220.0L394.5,200.7L394.8,202.5L395.1,212.5L395.3,217.0L395.6,220.4L395.9,217.5L396.2,214.5L396.4,205.6L396.7,199.5L397.0,184.4L397.2,204.4L397.5,203.8L397.8,204.5L398.0,212.6L398.3,184.7L398.6,210.6L398.9,201.4L399.1,221.4L399.4,199.8L399.7,221.5L399.9,210.3L400.2,216.2L400.5,197.1L400.7,186.6L401.0,199.4L401.3,191.0L401.6,205.2L401.8,198.4L402.1,209.4L402.4,211.4L402.6,228.9L402.9,223.0L403.2,227.4L403.4,235.0" stroke="#7f7f7f"/>
<path d="M510.0,179.4L510.3,172.7L510.5,183.3L510.8,176.4L511.1,185.5L511.3,176.9L511.6,167.6L511.9,163.5L512.2,174.8L512.4,175.5L512.7,172.6L513.0,171.4L513.2,178.9L513.5,166.1L513.8,184.9L514.0,176.3L514.3,170.3L514.6,175.3L514.9,168.2L515.1,166.1L515.4,165.7L515.7,181.7L515.9,175.4L516.2,169.9L516.5,179.2L516.7,176.2L517.0,177.0L517.3,171.3L517.6,156.7L517.8,175.6L518.1,172.9L518.4,168.7L518.6,160.5L518.9,166.7L519.2,168.4L519.4,163.4L519.7,169.7L520.0,183.5L520.3,174.1L520.5,169.0L520.8,163.2L521.1,165.1L521.3,165.3L521.6,173.6L521.9,155.8L522.1,162.4L522.4,168.9L522.7,175.3L523.0,167.1L523.2,163.8L523.5,172.9L523.8,168.5L524.0,164.4L524.3,167.1L524.6,161.5L524.8,159.6L525.1,154.5L525.4,159.1L525.7,164.4L525.9,151.5L526.2,164.7L526.5,148.5L526.7,167.6L527.0,161.6L527.3,159.9L527.5,169.3L527.8,158.0L528.1,155.0L528.4,160.6L528.6,164.0L528.9,154.9L529.2,144.7L529.4,146.9L529.7,166.5L530.0,153.5L530.2,157.7L530.5,157.3L530.8,151.0L531.1,156.3L531.3,150.0L531.6,152.7L531.9,163.6L532.1,160.6L532.4,168.5L532.7,160.0L532.9,156.0L533.2,155.2L533.5,153.3L533.8,160.5L534.0,153.6L534.3,150.4L534.6,155.3L534.8,157.8L535.1,145.2L535.4,139.8L535.6,154.0L535.9,152.5L536.2,153.9L536.5,160.6L536.7,151.3L537.0,165.2L537.3,167.4L537.5,146.0L537.8,151.7L538.1,153.4L538.3,143.5L538.6,149.8L538.9,161.2L539.2,155.3L539.4,145.5L539.7,166.6L540.0,165.0L540.2,168.8L540.5,153.1L540.8,156.1L541.0,159.4L541.3,157.9L541.6,166.0L541.9,172.4L542.1,170.7L542.4,165.6L542.7,163.9L542.9,162.0L543.2,164.6L543.5,156.4L543.7,166.0L544.0,176.2L544.3,174.3L544.6,170.6L544.8,175.0L545.1,173.8L545.4,168.1L545.6,164.8L545.9,164.6L546.2,175.3L546.4,158.6L546.7,170.6L547.0,168.5L547.3,171.4L547.5,175.2L547.8,185.9L548.1,178.0L548.3,186.3L548.6,181.3L548.9,181.6L549.1,169.8L549.4,175.5L549.7,179.1L550.0,187.4L550.2,155.1L550.5,162.9L550.8,177.6L551.0,179.0L551.3,172.6L551.6,176.6L551.8,177.8L552.1,167.1L552.4,175.0L552.7,175.4L552.9,175.9L553.2,179.2L553.5,179.6L553.7,169.6L554.0,174.6L554.3,174.7L554.5,181.2L554.8,181.6L555.1,174.0L555.4,171.1L555.6,165.5L555.9,176.2L556.2,179.4L556.4,176.3L556.7,168.1L557.0,190.4L557.2,190.8L557.5,186.4L557.8,177.1L558.1,175.6L558.3,175.7L558.6,180.5L558.9,172.6L559.1,173.3L559.4,162.8L559.7,180.5L559.9,177.4L560.2,180.1L560.5,201.0L560.8,183.2L561.0,198.6L561.3,199.1L561.6,207.2L561.8,221.0L562.1,209.0L562.4,223.7L562.6,240.4L562.9,223.2L563.2,210.4L563.5,202.6L563.7,193.2L564.0,197.3L564.3,200.9L564.5,193.8L564.8,196.9L565.1,182.4L565.3,173.6L565.6,196.1L565.9,181.0L566.2,178.5L566.4,187.0L566.7,185.8L567.0,173.1L567.2,169.7L567.5,176.7L567.8,175.7L568.0,191.3L568.3,187.1L568.6,171.3L568.9,174.4L569.1,183.5L569.4,179.0L569.7,188.3L569.9,190.4L570.2,182.5L570.5,191.5L570.7,193.4L571.0,186.9L571.3,189.7L571.6,183.7L571.8,168.6L572.1,184.2L572.4,183.6L572.6,172.8L572.9,188.1L573.2,181.2L573.4,187.0L573.7,189.6L574.0,179.1L574.3,183.0L574.5,182.4L574.8,188.3L575.1,172.2L575.3,181.8L575.6,171.0L575.9,178.4L576.1,179.0L576.4,180.3L576.7,187.8L577.0,183.7L577.2,188.9L577.5,181.7L577.8,170.6L578.0,201.6L578.3,197.6L578.6,175.8L578.8,175.3L579.1,195.2L579.4,174.1L579.7,185.7L579.9,184.3L580.2,183.0L580.5,180.7L580.7,185.2L581.0,180.0L581.3,183.4L581.5,180.8L581.8,176.0L582.1,187.4L582.4,189.2L582.6,183.0L582.9,191.7L583.2,196.0L583.4,200.7L583.7,200.9L584.0,202.4L584.2,202.4L584.5,198.3L584.8,182.7L585.1,202.6L585.3,197.2L585.6,197.0L585.9,202.8L586.1,202.9L586.4,198.3L586.7,188.0L586.9,203.1L587.2,194.3L587.5,194.9L587.8,187.4L588.0,195.3L588.3,196.4L588.6,199.0L588.8,179.2L589.1,198.2L589.4,195.8L589.6,189.8L589.9,195.0L590.2,186.5L590.5,191.3L590.7,186.6L591.0,197.6L591.3,199.9L591.5,197.3L591.8,196.5L592.1,187.8L592.3,187.9L592.6,183.8L592.9,179.7L593.2,196.7L593.4,199.1L593.7,196.0L594.0,188.7L594.2,191.3L594.5,187.1L594.8,194.8L595.0,207.6L595.3,205.0L595.6,199.2L595.9,196.5L596.1,203.1L596.4,209.3L596.7,198.1L596.9,210.0L597.2,194.2L597.5,181.1L597.7,200.9L598.0,191.7L598.3,193.1L598.6,198.8L598.8,194.3L599.1,186.5L599.4,191.7L599.6,186.5L599.9,191.9L600.2,195.8L600.4,183.5L600.7,199.1L601.0,201.9L601.3,198.7L601.5,178.4L601.8,179.5L602.1,191.9L602.3,190.2L602.6,188.0L602.9,181.5L603.1,189.5L603.4,197.3L603.7,189.5L604.0,197.8L604.2,205.1L604.5,188.8L604.8,196.3L605.0,199.0L605.3,204.7L605.6,197.1L605.8,214.3L606.1,215.0L606.4,214.2L606.7,221.8L606.9,246.7L607.2,225.6L607.5,220.7L607.7,209.7L608.0,193.3L608.3,209.5L608.5,209.5L608.8,224.8L609.1,205.5L609.4,224.2L609.6,220.9L609.9,205.6L610.2,210.0L610.4,213.8L610.7,192.9L611.0,195.1L611.2,218.4L611.5,215.4L611.8,204.5L612.1,213.4L612.3,218.6L612.6,195.4L612.9,194.8L613.1,199.3L613.4,206.0L613.7,222.1L613.9,206.0L614.2,217.9L614.5,223.0L614.8,228.4L615.0,227.8L615.3,224.6L615.6,232.8L615.8,203.6L616.1,224.7L616.4,237.3L616.6,214.8L616.9,211.7L617.2,245.0L617.5,233.4L617.7,218.0L618.0,215.4L618.3,223.4L618.5,223.3L618.8,245.4L619.1,241.9L619.3,209.0L619.6,226.6L619.9,241.8L620.2,238.4L620.4,202.1L620.7,210.5L621.0,228.5L621.2,239.0L621.5,191.4L621.8,195.7L622.0,205.2L622.3,241.5L622.6,210.1L622.9,195.7L623.1,198.0L623.4,201.2L623.7,215.6L623.9,187.3L624.2,194.7L624.5,175.7L624.7,199.1L625.0,202.5L625.3,180.2L625.6,166.0L625.8,152.4L626.1,183.3L626.4,178.4L626.6,204.3L626.9,162.7L627.2,155.4L627.4,163.5L627.7,182.2L628.0,185.1L628.3,168.7L628.5,169.8L628.8,182.2L629.1,159.8L629.3,160.4L629.6,191.4L629.9,217.1L630.1,195.0L630.4,203.7L630.7,193.6L631.0,179.2L631.2,185.7L631.5,203.0L631.8,181.9L632.0,208.9L632.3,213.2L632.6,185.5L632.8,188.2L633.1,206.3L633.4,194.6L633.7,183.5L633.9,183.1L634.2,196.2L634.5,208.4L634.7,177.9L635.0,182.1L635.3,209.2L635.5,193.1L635.8,186.8L636.1,196.1L636.4,198.7L636.6,190.3L636.9,172.7L637.2,192.5L637.4,178.9L637.7,189.2L638.0,182.1L638.2,194.4L638.5,171.7L638.8,197.9L639.1,194.7L639.3,208.1L639.6,194.1L639.9,190.6L640.1,186.7L640.4,195.5L640.7,175.8L640.9,195.6L641.2,193.9L641.5,191.7L641.8,192.4L642.0,203.9L642.3,189.9L642.6,172.7L642.8,192.5L643.1,194.4L643.4,203.8L643.6,193.1L643.9,191.9L644.2,206.4L644.5,191.6L644.7,190.6L645.0,192.0L645.3,191.5L645.5,194.3L645.8,188.4L646.1,192.2L646.3,186.2L646.6,193.7L646.9,184.3L647.2,188.6L647.4,179.1L647.7,182.6L648.0,180.4L648.2,191.1L648.5,179.5L648.8,191.8L649.0,192.9L649.3,198.1L649.6,204.5L649.9,197.3L650.1,190.8L650.4,188.6L650.7,185.7L650.9,180.6L651.2,182.3L651.5,179.8L651.7,196.1L652.0,183.9L652.3,203.8L652.6,197.9L652.8,192.3L653.1,193.7L653.4,195.1L653.6,184.8L653.9,182.3L654.2,191.4L654.4,191.4L654.7,192.0L655.0,198.3L655.3,199.0L655.5,200.4L655.8,197.2L656.1,184.7L656.3,185.3L656.6,178.5L656.9,191.3L657.1,185.6L657.4,177.3L657.7,191.3L658.0,186.5L658.2,199.3L658.5,190.4L658.8,206.2L659.0,192.3L659.3,213.0L659.6,190.6L659.8,200.7L660.1,186.8L660.4,186.3L660.7,189.7L660.9,195.7L661.2,197.2L661.5,190.3L661.7,179.1L662.0,193.1L662.3,194.3L662.5,191.1L662.8,183.2L663.1,190.8L663.4,181.9L663.6,203.9L663.9,193.6L664.2,191.6L664.4,179.9L664.7,185.3L665.0,175.9L665.2,173.6L665.5,173.7L665.8,173.5L666.1,188.5L666.3,185.0L666.6,174.3L666.9,173.4L667.1,187.4L667.4,175.9L667.7,185.2L667.9,182.2L668.2,184.2L668.5,190.8L668.8,194.7L669.0,205.1L669.3,197.4L669.6,182.4L669.8,191.9L670.1,189.3L670.4,193.7L670.6,174.4L670.9,199.5L671.2,197.2L671.5,185.8L671.7,192.3L672.0,195.1L672.3,201.3L672.5,190.0L672.8,207.7L673.1,185.7L673.3,185.6L673.6,175.7L673.9,189.2L674.2,180.5L674.4,176.3L674.7,180.3L675.0,185.8L675.2,190.5L675.5,178.9L675.8,198.8L676.0,188.3L676.3,196.2L676.6,181.5L676.9,180.4L677.1,190.4L677.4,192.6L677.7,188.1L677.9,201.9L678.2,194.2L678.5,190.0L678.7,202.7L679.0,200.6L679.3,187.0L679.6,200.3L679.8,207.1" stroke="#1f77b4"/>
<path d="M604.0,173.3L604.3,187.8L604.5,177.2L604.8,173.3L605.1,182.2L605.3,176.2L605.6,192.3L605.9,186.8L606.2,184.4L606.4,195.5L606.7,185.9L607.0,184.6L607.2,183.0L607.5,179.0L607.8,186.2L608.0,192.5L608.3,181.9L608.6,179.9L608.9,198.6L609.1,192.7L609.4,194.7L609.7,185.3L609.9,177.7L610.2,194.3L610.5,191.2L610.7,195.5L611.0,194.3L611.3,184.3L611.6,193.1L611.8,200.8L612.1,200.4L612.4,195.5L612.6,186.0L612.9,189.4L613.2,188.0L613.4,200.1L613.7,203.0L614.0,191.4L614.3,192.6L614.5,192.3L614.8,196.0L615.1,200.8L615.3,193.4L615.6,202.6L615.9,193.2L616.1,190.0L616.4,202.0L616.7,203.0L617.0,206.4L617.2,195.4L617.5,199.8L617.8,198.0L618.0,198.4L618.3,197.5L618.6,200.1L618.8,198.3L619.1,194.7L619.4,194.5L619.7,192.1L619.9,209.2L620.2,208.4L620.5,211.4L620.7,204.9L621.0,208.9L621.3,210.5L621.5,215.0L621.8,204.2L622.1,214.5L622.4,220.0L622.6,203.3L622.9,191.9L623.2,208.8L623.4,209.5L623.7,218.9L624.0,216.2L624.2,203.2L624.5,214.8L624.8,209.5L625.1,206.8L625.3,210.6L625.6,226.7L625.9,233.7L626.1,227.8L626.4,219.6L626.7,222.9L626.9,237.1L627.2,238.0L627.5,218.5L627.8,222.0L628.0,223.9L628.3,237.0L628.6,236.2L628.8,210.0L629.1,213.9L629.4,213.6L629.6,206.9L629.9,226.2L630.2,201.7L630.5,207.5L630.7,206.1L631.0,218.2L631.3,239.7L631.5,228.2L631.8,241.5L632.1,236.3L632.3,208.6L632.6,214.8L632.9,227.3L633.2,231.2L633.4,229.6L633.7,223.6L634.0,221.5L634.2,229.3L634.5,232.0L634.8,237.9L635.0,225.5L635.3,224.7L635.6,235.1L635.9,229.1L636.1,216.3L636.4,215.5L636.7,219.5L636.9,206.9L637.2,212.0L637.5,209.3L637.7,219.2L638.0,220.1L638.3,203.9L638.6,193.8L638.8,191.4L639.1,205.1L639.4,189.1L639.6,196.4L639.9,206.5L640.2,194.3L640.4,210.1L640.7,196.8L641.0,193.9L641.3,182.9L641.5,195.8L641.8,199.9L642.1,197.3L642.3,177.8L642.6,173.7L642.9,181.2L643.1,189.0L643.4,193.0L643.7,185.2L644.0,190.4L644.2,172.0L644.5,182.3L644.8,178.0L645.0,180.2L645.3,197.2L645.6,182.1L645.8,191.5L646.1,163.0L646.4,168.0L646.7,170.0L646.9,173.2L647.2,169.9L647.5,175.6L647.7,183.5L648.0,173.0L648.3,165.2L648.5,174.0L648.8,160.7L649.1,162.2L649.4,164.5L649.6,169.6L649.9,185.7L650.2,160.4L650.4,160.0L650.7,186.0L651.0,167.3L651.2,161.2L651.5,165.1L651.8,160.7L652.1,163.4L652.3,162.2L652.6,167.9L652.9,159.2L653.1,171.4L653.4,174.0L653.7,180.7L653.9,183.9L654.2,164.2L654.5,168.6L654.8,173.6L655.0,165.3L655.3,164.6L655.6,167.9L655.8,176.5L656.1,162.9L656.4,176.2L656.6,183.8L656.9,182.0L657.2,174.7L657.5,178.4L657.7,175.8L658.0,165.4L658.3,161.2L658.5,177.8L658.8,182.9L659.1,170.8L659.3,176.9L659.6,172.2L659.9,180.8L660.2,185.3L660.4,183.0L660.7,183.5L661.0,181.1L661.2,174.5L661.5,184.5L661.8,170.7L662.0,170.7L662.3,169.0L662.6,175.3L662.9,170.5L663.1,166.9L663.4,182.7L663.7,178.9L663.9,181.5L664.2,168.1L664.5,162.2L664.7,170.8L665.0,175.0L665.3,169.2L665.6,157.6L665.8,160.0L666.1,162.8L666.4,164.6L666.6,172.2L666.9,167.0L667.2,170.2L667.4,167.8L667.7,158.6L668.0,157.1L668.3,165.3L668.5,160.0L668.8,170.4L669.1,172.0L669.3,166.1L669.6,161.6L669.9,174.2L670.1,171.7L670.4,167.7L670.7,167.6L671.0,162.5L671.2,170.6L671.5,169.4L671.8,161.1L672.0,170.0L672.3,161.0L672.6,163.7L672.8,158.3L673.1,165.2L673.4,168.2L673.7,173.6L673.9,165.4L674.2,167.7L674.5,170.2L674.7,164.3L675.0,168.9L675.3,165.9L675.5,166.0L675.8,163.8L676.1,162.6L676.4,161.3L676.6,166.4L676.9,155.6L677.2,158.3L677.4,164.4L677.7,160.6L678.0,164.2L678.2,159.4L678.5,159.3L678.8,161.1L679.1,168.6L679.3,167.3L679.6,171.5L679.9,160.7L680.1,163.5L680.4,164.5L680.7,167.2L680.9,159.8L681.2,168.4L681.5,167.3L681.8,166.9L682.0,168.5L682.3,169.4L682.6,161.7L682.8,164.7L683.1,151.0L683.4,167.1L683.6,168.8L683.9,154.0L684.2,170.2L684.5,162.2L684.7,156.3L685.0,165.6L685.3,161.5L685.5,163.3L685.8,159.5L686.1,167.2L686.3,156.3L686.6,161.0L686.9,166.3L687.2,166.6L687.4,155.0L687.7,163.1L688.0,155.1L688.2,165.6L688.5,171.5L688.8,166.4L689.0,152.7L689.3,169.7L689.6,167.9L689.9,167.2L690.1,170.3L690.4,171.7L690.7,169.1L690.9,174.6L691.2,174.8L691.5,168.4L691.7,168.0L692.0,162.1L692.3,159.1L692.6,161.9L692.8,171.3L693.1,161.1L693.4,164.8L693.6,162.4L693.9,167.4L694.2,177.0L694.4,175.5L694.7,169.7L695.0,171.9L695.3,170.6L695.5,170.7L695.8,168.9L696.1,166.3L696.3,179.2L696.6,173.0L696.9,159.1L697.1,178.7L697.4,176.3L697.7,173.1L698.0,172.4L698.2,174.4L698.5,172.7L698.8,164.9L699.0,174.7L699.3,177.1L699.6,161.8L699.8,178.8L700.1,162.5L700.4,166.3L700.7,166.1L700.9,163.4L701.2,163.8L701.5,171.3L701.7,169.4L702.0,170.8L702.3,165.0L702.5,175.8L702.8,181.1L703.1,191.8L703.4,183.4L703.6,180.0L703.9,166.8L704.2,186.3L704.4,167.4L704.7,168.6L705.0,178.0L705.2,185.3L705.5,182.6L705.8,174.3L706.1,192.2L706.3,183.2L706.6,199.4L706.9,186.5L707.1,177.4L707.4,191.0L707.7,194.7L707.9,182.2L708.2,191.3L708.5,180.4L708.8,173.4L709.0,183.1L709.3,175.9L709.6,176.7L709.8,178.5L710.1,180.2L710.4,182.0L710.6,187.3L710.9,204.7L711.2,183.3L711.5,180.9L711.7,192.1L712.0,188.7L712.3,184.9L712.5,196.2L712.8,195.6L713.1,189.7L713.3,192.4L713.6,200.9L713.9,199.7L714.2,193.4L714.4,196.8L714.7,197.0L715.0,206.0L715.2,205.2L715.5,199.9L715.8,195.2L716.0,206.7L716.3,199.3L716.6,207.0L716.9,197.1L717.1,212.1L717.4,210.2L717.7,211.6L717.9,210.7L718.2,210.8L718.5,218.6L718.7,215.1L719.0,218.7L719.3,211.4L719.6,211.2L719.8,214.1L720.1,221.8L720.4,214.2L720.6,233.7L720.9,230.6L721.2,221.4L721.4,238.5L721.7,226.1L722.0,224.9L722.3,208.1L722.5,224.5L722.8,212.7L723.1,222.3L723.3,217.6L723.6,226.9L723.9,217.8L724.1,230.0L724.4,229.9L724.7,234.1L725.0,226.1" stroke="#ff7f0e"/>
<path d="M686.0,210.0L686.3,198.8L686.5,203.8L686.8,209.6L687.1,212.4L687.3,204.4L687.6,202.2L687.9,208.0L688.2,203.1L688.4,205.0L688.7,222.8L689.0,203.3L689.2,203.9L689.5,207.7L689.8,213.2L690.0,194.6L690.3,203.0L690.6,181.3L690.9,192.8L691.1,188.0L691.4,191.5L691.7,195.9L691.9,200.0L692.2,195.6L692.5,185.5L692.7,194.9L693.0,191.5L693.3,202.0L693.6,184.5L693.8,185.9L694.1,187.4L694.4,177.1L694.6,185.3L694.9,191.3L695.2,183.6L695.4,186.1L695.7,171.8L696.0,185.6L696.3,172.5L696.5,184.4L696.8,186.0L697.1,173.6L697.3,188.4L697.6,175.0L697.9,184.4L698.1,182.2L698.4,174.6L698.7,179.1L699.0,168.4L699.2,183.1L699.5,167.8L699.8,173.1L700.0,174.4L700.3,171.2L700.6,175.2L700.8,192.3L701.1,183.1L701.4,181.2L701.7,179.4L701.9,183.1L702.2,183.8L702.5,169.3L702.7,178.4L703.0,172.0L703.3,174.1L703.5,164.5L703.8,166.6L704.1,169.2L704.4,163.9L704.6,178.3L704.9,172.0L705.2,179.1L705.4,174.7L705.7,163.7L706.0,179.5L706.2,180.7L706.5,178.1L706.8,175.4L707.1,166.9L707.3,167.4L707.6,173.5L707.9,174.6L708.1,163.9L708.4,185.4L708.7,161.2L708.9,168.3L709.2,169.8L709.5,160.4L709.8,164.6L710.0,172.6L710.3,177.1L710.6,165.0L710.8,171.7L711.1,163.1L711.4,169.6L711.6,169.9L711.9,174.7L712.2,176.5L712.5,166.5L712.7,164.6L713.0,166.9L713.3,157.7L713.5,171.0L713.8,167.6L714.1,168.8L714.3,171.9L714.6,163.9L714.9,165.8L715.2,164.2L715.4,160.2L715.7,154.7L716.0,164.1L716.2,160.7L716.5,164.8L716.8,170.1L717.0,175.3L717.3,160.7L717.6,161.3L717.9,161.4L718.1,163.7L718.4,162.2L718.7,169.6L718.9,175.9L719.2,175.3L719.5,164.8L719.7,168.1L720.0,152.8L720.3,165.5L720.6,166.3L720.8,168.5L721.1,159.6L721.4,149.8L721.6,158.6L721.9,155.3L722.2,157.4L722.4,162.6L722.7,152.3L723.0,162.8L723.3,163.4L723.5,170.6L723.8,158.3L724.1,164.1L724.3,163.4L724.6,158.9L724.9,166.4L725.1,172.2L725.4,149.0L725.7,153.5L726.0,156.5L726.2,154.2L726.5,161.3L726.8,160.8L727.0,158.0L727.3,156.0L727.6,162.3L727.8,158.0L728.1,147.4L728.4,157.5L728.7,148.2L728.9,155.1L729.2,144.5L729.5,152.6L729.7,155.1L730.0,155.2L730.3,153.7L730.5,148.9L730.8,149.7L731.1,161.8L731.4,150.1L731.6,159.3L731.9,148.9L732.2,152.6L732.4,152.6L732.7,161.2L733.0,156.7L733.2,162.5L733.5,156.9L733.8,159.1L734.1,146.1L734.3,146.9L734.6,151.0L734.9,150.3L735.1,157.7L735.4,153.3L735.7,154.3L735.9,155.6L736.2,160.8L736.5,169.6L736.8,160.9L737.0,158.5L737.3,163.2L737.6,164.4L737.8,168.3L738.1,158.5L738.4,153.8L738.6,151.3L738.9,166.6L739.2,167.7L739.5,162.2L739.7,153.2L740.0,162.5L740.3,154.8L740.5,164.0L740.8,156.7L741.1,164.5L741.3,161.6L741.6,151.8L741.9,168.9L742.2,165.9L742.4,153.1L742.7,155.6L743.0,156.4L743.2,139.7L743.5,152.6L743.8,160.3L744.0,157.5L744.3,149.6L744.6,167.2L744.9,147.6L745.1,143.1L745.4,147.2L745.7,147.4L745.9,141.6L746.2,142.0L746.5,141.3L746.7,150.0L747.0,161.8L747.3,157.9L747.6,148.5L747.8,140.8L748.1,139.5L748.4,149.4L748.6,159.6L748.9,146.5L749.2,149.3L749.4,156.2L749.7,149.9L750.0,158.4L750.3,141.8L750.5,147.2L750.8,172.7L751.1,174.4L751.3,162.5L751.6,152.7L751.9,158.7L752.1,162.5L752.4,195.0L752.7,140.4L753.0,171.6L753.2,148.8L753.5,173.0L753.8,157.9L754.0,149.3L754.3,150.3L754.6,177.8L754.8,168.5L755.1,168.3L755.4,174.9L755.7,191.2L755.9,155.7L756.2,181.4L756.5,174.9L756.7,159.1L757.0,166.7L757.3,154.5L757.5,185.8L757.8,168.5L758.1,178.0L758.4,180.0L758.6,176.0L758.9,196.5L759.2,182.8L759.4,180.1L759.7,163.1L760.0,179.4L760.2,168.2L760.5,141.8L760.8,157.0L761.1,166.0L761.3,160.4L761.6,162.2L761.9,161.2L762.1,162.4L762.4,164.2L762.7,151.5L762.9,146.9L763.2,163.6L763.5,153.3L763.8,147.2L764.0,147.4L764.3,165.8L764.6,159.1L764.8,165.4L765.1,163.6L765.4,159.1L765.6,160.1L765.9,173.9L766.2,149.2L766.5,174.3L766.7,172.3L767.0,175.4L767.3,176.7L767.5,167.9L767.8,171.2L768.1,153.4L768.3,171.5L768.6,159.4L768.9,181.6L769.2,170.6L769.4,183.8L769.7,158.3L770.0,154.7L770.2,151.0L770.5,160.3L770.8,146.8L771.0,164.1L771.3,163.4L771.6,177.3L771.9,176.3L772.1,151.6L772.4,174.8L772.7,173.0L772.9,168.6L773.2,148.7L773.5,171.6L773.7,163.9L774.0,164.4L774.3,159.3L774.6,149.8L774.8,157.8L775.1,172.2L775.4,168.2L775.6,172.5L775.9,154.5L776.2,168.9L776.4,160.4L776.7,158.4L777.0,163.1L777.3,156.4L777.5,161.7L777.8,152.9L778.1,153.2L778.3,169.1L778.6,173.5L778.9,169.7L779.1,175.0L779.4,171.2L779.7,167.3L780.0,166.4L780.2,173.1L780.5,165.0L780.8,167.7L781.0,166.6L781.3,161.2L781.6,166.8L781.8,159.7" stroke="#2ca02c"/>
<path d="M160.0,172.8L160.3,199.2L160.5,177.1L160.8,182.5L161.1,179.1L161.4,195.7L161.6,193.1L161.9,190.5L162.2,201.6L162.4,193.7L162.7,178.5L163.0,186.7L163.2,182.0L163.5,184.7L163.8,178.7L164.1,184.4L164.3,199.6L164.6,195.4L164.9,188.5L165.1,190.5L165.4,176.5L165.7,193.2L165.9,192.8L166.2,203.5L166.5,193.8L166.8,191.2L167.0,200.6L167.3,196.5L167.6,198.5L167.8,192.2L168.1,197.2L168.4,192.6L168.6,181.3L168.9,186.2L169.2,188.4L169.5,187.2L169.7,187.4L170.0,199.1L170.3,187.6L170.5,185.7L170.8,197.3L171.1,201.0L171.3,195.4L171.6,205.7L171.9,194.4L172.2,195.0L172.4,183.0L172.7,197.4L173.0,199.6L173.2,203.2L173.5,208.3L173.8,206.7L174.0,201.2L174.3,212.6L174.6,212.5L174.9,197.4L175.1,199.1L175.4,196.8L175.7,200.1L175.9,201.8L176.2,195.2L176.5,203.3L176.7,194.0L177.0,209.9L177.3,205.4L177.6,217.1L177.8,209.3L178.1,221.0L178.4,210.9L178.6,209.8L178.9,218.5L179.2,222.8L179.4,209.1L179.7,213.1L180.0,213.3L180.3,212.9L180.5,218.3L180.8,211.1L181.1,207.0L181.3,212.9L181.6,211.3L181.9,214.9L182.1,221.4L182.4,207.8L182.7,208.5L183.0,212.5L183.2,222.7L183.5,223.4L183.8,224.6L184.0,229.1L184.3,223.9L184.6,227.7L184.8,218.5L185.1,220.6L185.4,215.9L185.7,228.8L185.9,224.5L186.2,212.8L186.5,207.4L186.7,220.5L187.0,214.3L187.3,229.6L187.5,226.3L187.8,226.2L188.1,232.6L188.4,221.8L188.6,238.4L188.9,222.1L189.2,232.9L189.4,221.9L189.7,221.9L190.0,231.0L190.2,231.7L190.5,228.5L190.8,227.9L191.1,230.7L191.3,223.4L191.6,228.7L191.9,225.2" stroke="#d62728"/>
<path d="M191.9,225.2L842.0,208.5" stroke="#d62728" stroke-width="0.72"/>
<path d="M842.0,208.5L842.3,212.1L842.5,215.4L842.8,211.4L843.1,225.2L843.3,233.4L843.6,238.7L843.9,228.5L844.2,200.6L844.4,240.5L844.7,223.1L845.0,215.6L845.2,200.0L845.5,216.5L845.8,198.7L846.0,224.3L846.3,194.7L846.6,209.1L846.9,186.7L847.1,200.9L847.4,229.9L847.7,201.1L847.9,228.3L848.2,221.5L848.5,202.0L848.7,191.9L849.0,224.3L849.3,225.8L849.6,214.0L849.8,219.5L850.1,221.4L850.4,199.5L850.6,196.0L850.9,180.4L851.2,190.7L851.4,189.8L851.7,197.2L852.0,182.0L852.3,186.7L852.5,183.0L852.8,177.2L853.1,175.2L853.3,171.9L853.6,182.8L853.9,179.1L854.1,181.8L854.4,184.1L854.7,182.7L855.0,186.3L855.2,193.5L855.5,192.2L855.8,177.5L856.0,184.1L856.3,183.1L856.6,185.3L856.8,183.9L857.1,175.8L857.4,176.8L857.7,174.6L857.9,178.7L858.2,181.1L858.5,179.3L858.7,185.3L859.0,183.3L859.3,187.0L859.5,179.1L859.8,179.2L860.1,178.5L860.4,177.7L860.6,183.7L860.9,182.5L861.2,176.5L861.4,170.4L861.7,176.1L862.0,172.9L862.2,177.9L862.5,169.4L862.8,172.5" stroke="#d62728"/>
<path d="M340.0,207.8L340.3,190.1L340.5,198.1L340.8,190.1L341.1,188.6L341.3,195.2L341.6,195.2L341.9,184.2L342.2,188.9L342.4,201.4L342.7,205.6L343.0,177.6L343.2,178.5L343.5,197.7L343.8,166.7L344.0,169.0L344.3,197.3L344.6,164.7L344.9,197.9L345.1,174.0L345.4,170.8L345.7,182.3L345.9,174.0L346.2,167.2L346.5,190.9L346.7,164.5L347.0,199.8L347.3,203.0L347.6,168.7L347.8,163.9L348.1,177.6L348.4,186.3L348.6,166.4L348.9,191.1L349.2,166.5L349.4,168.9L349.7,177.1L350.0,186.6L350.3,157.0L350.5,155.8L350.8,175.4L351.1,172.0L351.3,170.3L351.6,182.2L351.9,161.1L352.1,181.4L352.4,175.7L352.7,163.2L353.0,184.8L353.2,171.1L353.5,172.0L353.8,165.2L354.0,160.9L354.3,152.8L354.6,155.5L354.8,178.3L355.1,172.7L355.4,187.8L355.7,166.3L355.9,167.5L356.2,158.7L356.5,160.3L356.7,178.5L357.0,181.3L357.3,182.6L357.5,172.0L357.8,188.0L358.1,188.0L358.4,167.1L358.6,194.9L358.9,170.4L359.2,179.1L359.4,173.5L359.7,185.0L360.0,171.9L360.2,156.7L360.5,154.6L360.8,160.0L361.1,176.0L361.3,175.3L361.6,168.7L361.9,176.0L362.1,168.1L362.4,171.6L362.7,171.4L362.9,148.1L363.2,162.2L363.5,160.4L363.8,167.4L364.0,173.6L364.3,162.4L364.6,153.3L364.8,164.6L365.1,173.1L365.4,169.5L365.6,163.0L365.9,171.0L366.2,155.7L366.5,164.6L366.7,154.5L367.0,147.1L367.3,164.2L367.5,145.5L367.8,158.6L368.1,165.6L368.3,155.0L368.6,147.9L368.9,155.3L369.2,167.5L369.4,150.2L369.7,155.8L370.0,158.7L370.2,151.8L370.5,154.4L370.8,158.8L371.0,149.2L371.3,169.5L371.6,159.4L371.9,155.4L372.1,151.0L372.4,163.9L372.7,166.4L372.9,157.7L373.2,158.3L373.5,150.0L373.7,155.1L374.0,160.1L374.3,156.5L374.6,156.9L374.8,157.5L375.1,162.9L375.4,159.0L375.6,157.3L375.9,160.6L376.2,158.2L376.4,155.1L376.7,146.9L377.0,154.7L377.3,148.8L377.5,150.6L377.8,150.7L378.1,153.9L378.3,162.8L378.6,147.4L378.9,144.7L379.1,144.4L379.4,165.4L379.7,146.3L380.0,146.9L380.2,154.8L380.5,157.2L380.8,151.1L381.0,144.9L381.3,156.6L381.6,161.7L381.8,155.9L382.1,154.5L382.4,153.5L382.7,155.9L382.9,166.3L383.2,161.6L383.5,159.2L383.7,142.4L384.0,142.4L384.3,148.9L384.5,146.2L384.8,145.7L385.1,160.8L385.4,156.6L385.6,149.3L385.9,164.0L386.2,157.1L386.4,147.8L386.7,155.0L387.0,142.3L387.2,147.9L387.5,162.5L387.8,160.7L388.1,148.6L388.3,155.9L388.6,153.8L388.9,150.0L389.1,153.1L389.4,156.5L389.7,142.4L389.9,156.4L390.2,156.4L390.5,156.1L390.8,157.3L391.0,155.1L391.3,159.3L391.6,160.2L391.8,156.1L392.1,160.5L392.4,155.6L392.6,152.5L392.9,159.3L393.2,162.3L393.5,152.6L393.7,152.9L394.0,146.8L394.3,163.0L394.5,161.3L394.8,158.8L395.1,155.1L395.3,155.1L395.6,145.7L395.9,149.1L396.2,150.9L396.4,156.7L396.7,153.2L397.0,157.1L397.2,153.4L397.5,161.2L397.8,160.3L398.0,160.9L398.3,151.8L398.6,154.2L398.9,159.7L399.1,154.5L399.4,153.4L399.7,156.5L399.9,158.3L400.2,162.3L400.5,151.8L400.7,159.5L401.0,166.2L401.3,151.1L401.6,160.8L401.8,161.7L402.1,154.5L402.4,162.3L402.6,151.8L402.9,163.5L403.2,148.3L403.4,160.0L403.7,155.8L404.0,167.2L404.3,153.5L404.5,157.8L404.8,155.5L405.1,162.1L405.3,163.7L405.6,163.2L405.9,163.6L406.1,162.2L406.4,161.8L406.7,163.9L407.0,157.2L407.2,146.7L407.5,154.1L407.8,154.3L408.0,161.4L408.3,163.4L408.6,152.2L408.8,162.2L409.1,169.1L409.4,157.5L409.7,164.6L409.9,170.3L410.2,161.5L410.5,165.3L410.7,171.8L411.0,162.1L411.3,169.6L411.5,166.8L411.8,166.7L412.1,165.8L412.4,169.7L412.6,173.1L412.9,170.4L413.2,157.0L413.4,167.7L413.7,165.3L414.0,164.3L414.2,165.9L414.5,174.4L414.8,168.2L415.1,174.5L415.3,172.8L415.6,172.3L415.9,175.3L416.1,172.0L416.4,175.6L416.7,175.8L416.9,165.3L417.2,168.8L417.5,155.4L417.8,165.7L418.0,161.6L418.3,169.4L418.6,177.1L418.8,172.0L419.1,174.9L419.4,174.3L419.6,166.7L419.9,165.6L420.2,159.9L420.5,155.1L420.7,169.6L421.0,170.8L421.3,162.4L421.5,170.1L421.8,161.4L422.1,160.7L422.3,161.9L422.6,169.6L422.9,171.9L423.2,160.5L423.4,168.5L423.7,172.2L424.0,174.0L424.2,172.4L424.5,172.8L424.8,167.7L425.0,171.7L425.3,163.0L425.6,179.6L425.9,166.0L426.1,171.8L426.4,166.8L426.7,170.1L426.9,160.4L427.2,182.3L427.5,178.8L427.7,174.0L428.0,166.1L428.3,171.1L428.6,168.2L428.8,179.2L429.1,182.5L429.4,189.3L429.6,181.2L429.9,190.3L430.2,179.3L430.4,187.9L430.7,174.9L431.0,178.4L431.3,179.4L431.5,181.9L431.8,183.6L432.1,181.7L432.3,172.3L432.6,184.0L432.9,184.1L433.1,165.1L433.4,184.8L433.7,195.7L434.0,182.0L434.2,174.6L434.5,162.3L434.8,185.1L435.0,195.5L435.3,191.4L435.6,186.3L435.8,195.7L436.1,190.6L436.4,184.4L436.7,170.4L436.9,171.5L437.2,175.9L437.5,172.1L437.7,173.6L438.0,199.9L438.3,190.2L438.5,194.6L438.8,187.8L439.1,178.0L439.4,191.8L439.6,173.4L439.9,184.3L440.2,193.6L440.4,203.2L440.7,194.9L441.0,174.4L441.2,175.6L441.5,198.0L441.8,199.0L442.1,200.1L442.3,194.1L442.6,197.3L442.9,198.3L443.1,199.0L443.4,207.1L443.7,192.0L443.9,195.0L444.2,208.3L444.5,198.5L444.8,197.2L445.0,200.5L445.3,200.9L445.6,201.7L445.8,203.5L446.1,205.6L446.4,198.8L446.6,187.5L446.9,208.2L447.2,201.0L447.5,208.7L447.7,195.2L448.0,194.0L448.3,205.0L448.5,209.3L448.8,216.6L449.1,211.8L449.3,206.6L449.6,211.9L449.9,218.0L450.2,202.9L450.4,212.3L450.7,214.1L451.0,221.9L451.2,222.6L451.5,223.4L451.8,224.2L452.0,210.0L452.3,203.4L452.6,216.4L452.9,220.2L453.1,204.1L453.4,192.7L453.7,207.0L453.9,212.3L454.2,213.8L454.5,223.2L454.7,208.9L455.0,202.6L455.3,194.2L455.6,199.3L455.8,208.0L456.1,206.5L456.4,210.9L456.6,209.7L456.9,222.8L457.2,218.0L457.4,224.9L457.7,235.5L458.0,222.7L458.3,226.0L458.5,219.2L458.8,228.0L459.1,225.5L459.3,229.6L459.6,236.3L459.9,241.1" stroke="#d62728"/>
<path d="M617.0,199.0L617.3,195.7L617.5,207.3L617.8,213.4L618.1,219.0L618.3,203.3L618.6,210.3L618.9,208.3L619.2,211.6L619.4,198.1L619.7,184.7L620.0,208.8L620.2,207.3L620.5,188.7L620.8,202.5L621.0,190.9L621.3,202.5L621.6,187.7L621.9,189.3L622.1,184.4L622.4,199.6L622.7,199.5L622.9,180.0L623.2,182.7L623.5,184.4L623.7,180.9L624.0,174.8L624.3,182.4L624.6,191.1L624.8,179.8L625.1,176.5L625.4,188.0L625.6,184.2L625.9,172.2L626.2,169.0L626.4,171.2L626.7,183.0L627.0,185.9L627.3,181.8L627.5,175.5L627.8,176.5L628.1,178.0L628.3,172.0L628.6,159.3L628.9,172.8L629.1,175.6L629.4,175.7L629.7,174.9L630.0,170.5L630.2,172.4L630.5,181.3L630.8,157.6L631.0,172.7L631.3,172.8L631.6,170.2L631.8,164.4L632.1,159.1L632.4,156.9L632.7,168.4L632.9,160.2L633.2,169.4L633.5,170.7L633.7,167.5L634.0,167.8L634.3,174.8L634.5,170.0L634.8,171.6L635.1,172.2L635.4,176.1L635.6,171.3L635.9,170.6L636.2,153.1L636.4,160.4L636.7,170.7L637.0,162.5L637.2,163.6L637.5,168.7L637.8,167.6L638.1,154.3L638.3,165.9L638.6,168.2L638.9,163.2L639.1,157.3L639.4,157.7L639.7,160.6L639.9,162.7L640.2,152.8L640.5,149.5L640.8,149.3L641.0,160.3L641.3,157.9L641.6,161.0L641.8,159.9L642.1,164.6L642.4,162.9L642.6,155.5L642.9,159.4L643.2,154.6L643.5,155.6L643.7,146.8L644.0,155.5L644.3,161.1L644.5,155.2L644.8,152.7L645.1,165.7L645.3,156.2L645.6,152.6L645.9,154.9L646.2,147.4L646.4,147.3L646.7,151.6L647.0,147.7L647.2,143.4L647.5,162.0L647.8,163.8L648.0,154.9L648.3,156.8L648.6,155.1L648.9,158.4L649.1,142.7L649.4,146.0L649.7,151.4L649.9,156.3L650.2,163.2L650.5,154.9L650.7,159.7L651.0,158.3L651.3,145.2L651.6,143.9L651.8,145.9L652.1,150.6L652.4,144.3L652.6,149.2L652.9,136.1L653.2,146.0L653.4,152.8L653.7,149.4L654.0,144.3L654.3,150.4L654.5,146.9L654.8,152.2L655.1,162.7L655.3,156.1L655.6,162.9L655.9,163.0L656.1,161.8L656.4,152.3L656.7,152.0L657.0,149.8L657.2,145.6L657.5,156.2L657.8,158.3L658.0,150.1L658.3,163.2L658.6,156.2L658.8,156.5L659.1,157.5L659.4,161.2L659.7,156.4L659.9,158.9L660.2,154.2L660.5,154.8L660.7,158.5L661.0,155.8L661.3,148.8L661.5,155.4L661.8,153.0L662.1,153.1L662.4,158.4L662.6,154.9L662.9,164.0L663.2,159.2L663.4,160.7L663.7,146.2L664.0,143.8L664.2,159.0L664.5,153.3L664.8,155.7L665.1,153.8L665.3,152.3L665.6,154.0L665.9,151.1L666.1,159.7L666.4,162.2L666.7,156.6L666.9,156.4L667.2,153.3L667.5,154.1L667.8,148.5L668.0,143.8L668.3,154.4L668.6,145.6L668.8,148.7L669.1,152.5L669.4,150.7L669.6,155.5L669.9,153.8L670.2,156.7L670.5,161.8L670.7,149.1L671.0,151.2L671.3,144.1L671.5,144.2L671.8,145.9L672.1,153.4L672.3,153.7L672.6,155.5L672.9,144.3L673.2,152.4L673.4,157.0L673.7,158.0L674.0,157.4L674.2,152.0L674.5,148.4L674.8,149.1L675.0,153.0L675.3,156.5L675.6,153.2L675.9,149.7L676.1,151.0L676.4,150.5L676.7,149.9L676.9,152.6L677.2,155.8L677.5,151.4L677.7,147.7L678.0,145.5L678.3,150.7L678.6,156.1L678.8,160.6L679.1,156.2L679.4,157.6L679.6,157.0L679.9,150.7L680.2,159.2L680.4,152.8L680.7,149.2L681.0,150.9L681.3,152.2L681.5,148.9L681.8,159.4L682.1,159.2L682.3,156.2L682.6,150.2L682.9,155.3L683.1,156.8L683.4,153.5L683.7,158.7L684.0,147.1L684.2,151.5L684.5,156.5L684.8,148.1L685.0,153.9L685.3,151.8L685.6,151.2L685.8,154.1L686.1,156.7L686.4,154.1L686.7,151.0L686.9,155.3L687.2,154.4L687.5,157.9L687.7,161.5L688.0,155.7L688.3,163.5L688.5,160.1L688.8,163.0L689.1,157.0L689.4,156.3L689.6,162.5L689.9,165.5L690.2,156.6L690.4,163.1L690.7,153.6L691.0,151.1L691.2,156.0L691.5,149.0L691.8,156.6L692.1,157.8L692.3,163.5L692.6,154.8L692.9,151.1L693.1,152.8L693.4,150.8L693.7,152.5L693.9,157.4L694.2,154.4L694.5,160.3L694.8,160.3L695.0,166.7L695.3,161.3L695.6,158.1L695.8,168.1L696.1,153.0L696.4,160.8L696.6,165.9L696.9,164.7L697.2,160.7L697.5,162.2L697.7,155.2L698.0,158.4L698.3,164.4L698.5,170.8L698.8,165.6L699.1,164.5L699.3,159.1L699.6,159.0L699.9,151.1L700.2,160.5L700.4,142.8L700.7,150.8L701.0,152.7L701.2,148.2L701.5,147.7L701.8,149.4L702.0,157.8L702.3,171.1L702.6,168.0L702.9,151.9L703.1,157.7L703.4,171.8L703.7,164.6L703.9,165.2L704.2,156.7L704.5,171.8L704.7,157.4L705.0,152.1L705.3,156.9L705.6,165.6L705.8,157.5L706.1,159.0L706.4,157.6L706.6,161.3L706.9,174.1L707.2,158.2L707.4,154.9L707.7,162.6L708.0,149.3L708.3,155.7L708.5,161.1L708.8,152.1L709.1,161.2L709.3,168.3L709.6,163.3L709.9,170.4L710.1,154.8L710.4,158.9L710.7,166.7L711.0,164.7L711.2,170.8L711.5,173.5L711.8,178.8L712.0,167.6L712.3,168.6L712.6,167.6L712.8,165.2L713.1,162.3L713.4,152.3L713.7,154.9L713.9,159.7L714.2,163.2L714.5,164.2L714.7,178.8L715.0,169.7L715.3,160.4L715.5,172.4L715.8,183.3L716.1,176.1L716.4,152.7L716.6,165.3L716.9,166.5L717.2,160.3L717.4,163.6L717.7,167.0L718.0,158.9L718.2,177.1L718.5,168.1L718.8,155.4L719.1,166.5L719.3,170.5L719.6,161.1L719.9,163.4L720.1,173.0L720.4,156.4L720.7,168.4L720.9,169.0L721.2,168.6L721.5,175.6L721.8,176.5L722.0,166.2L722.3,175.1L722.6,167.9L722.8,159.9L723.1,181.8L723.4,163.7L723.6,171.5L723.9,169.9L724.2,175.2L724.5,176.9L724.7,189.4L725.0,170.6L725.3,170.2L725.5,177.1L725.8,177.5L726.1,185.5L726.3,181.5L726.6,175.9L726.9,176.1L727.2,183.9L727.4,179.7L727.7,176.4L728.0,176.9L728.2,171.4L728.5,174.0L728.8,181.1L729.0,185.2L729.3,186.2L729.6,187.9L729.9,193.5L730.1,175.7L730.4,179.7L730.7,190.0L730.9,183.8L731.2,179.3L731.5,187.2L731.7,185.4L732.0,188.3L732.3,184.4L732.6,187.9L732.8,174.4L733.1,185.0L733.4,187.3L733.6,174.8L733.9,190.3L734.2,193.1L734.4,181.6L734.7,196.6L735.0,202.2L735.3,187.8L735.5,189.6L735.8,192.9L736.1,187.6L736.3,184.3L736.6,194.0L736.9,202.8L737.1,202.0L737.4,203.5L737.7,189.8L738.0,208.0L738.2,208.5L738.5,198.2L738.8,193.1L739.0,198.1L739.3,204.9L739.6,198.8L739.8,194.9L740.1,189.1L740.4,195.9L740.7,204.5L740.9,200.7L741.2,211.2L741.5,209.1L741.7,196.5L742.0,183.9L742.3,212.0L742.5,199.2L742.8,200.9L743.1,206.5L743.4,211.2L743.6,211.6L743.9,203.3L744.2,204.3L744.4,203.7L744.7,199.2L745.0,199.7L745.2,196.5L745.5,202.4L745.8,203.0L746.1,208.3L746.3,215.6L746.6,210.9L746.9,205.6L747.1,200.9L747.4,211.3L747.7,209.9L747.9,211.9L748.2,205.4L748.5,201.2L748.8,210.3L749.0,200.4L749.3,209.2L749.6,208.7L749.8,222.4L750.1,202.7L750.4,207.2L750.6,210.1L750.9,210.7L751.2,220.3L751.5,229.1L751.7,219.4L752.0,220.4L752.3,218.1L752.5,227.3L752.8,225.8L753.1,215.1L753.3,223.4L753.6,221.3L753.9,220.0L754.2,216.3L754.4,215.9L754.7,217.9L755.0,224.3L755.2,219.2L755.5,206.2L755.8,210.1L756.0,208.4L756.3,222.8L756.6,213.7L756.9,221.8L757.1,219.4L757.4,209.3L757.7,228.9L757.9,232.0L758.2,227.2L758.5,233.4L758.7,225.9L759.0,210.2L759.3,231.1L759.6,219.4L759.8,219.4L760.1,226.6L760.4,225.3L760.6,224.1L760.9,216.1" stroke="#d62728"/>
<path d="M704.0,192.4L704.3,192.6L704.5,191.6L704.8,194.7L705.1,210.6L705.3,192.5L705.6,202.5L705.9,203.0L706.2,196.4L706.4,195.4L706.7,208.4L707.0,203.3L707.2,199.8L707.5,195.5L707.8,198.5L708.0,187.9L708.3,202.9L708.6,215.4L708.9,191.0L709.1,185.5L709.4,180.0L709.7,195.8L709.9,211.8L710.2,204.5L710.5,203.1L710.7,204.2L711.0,187.0L711.3,188.7L711.6,183.4L711.8,191.1L712.1,197.3L712.4,189.0L712.6,193.5L712.9,191.9L713.2,190.4L713.4,193.5L713.7,179.1L714.0,191.5L714.3,187.4L714.5,193.1L714.8,195.9L715.1,205.2L715.3,187.4L715.6,194.0L715.9,198.8L716.1,192.6L716.4,191.5L716.7,192.3L717.0,192.4L717.2,191.7L717.5,183.3L717.8,196.8L718.0,178.5L718.3,178.4L718.6,192.6L718.8,204.1L719.1,196.8L719.4,202.6L719.7,197.3L719.9,181.5L720.2,191.8L720.5,201.3L720.7,187.2L721.0,184.3L721.3,196.4L721.5,194.5L721.8,204.3L722.1,186.9L722.4,183.5L722.6,177.9L722.9,186.9L723.2,184.7L723.4,193.9L723.7,187.3L724.0,184.3L724.2,189.7L724.5,188.0L724.8,185.8L725.1,183.9L725.3,181.2L725.6,190.6L725.9,193.4L726.1,201.5L726.4,206.1L726.7,193.6L726.9,187.0L727.2,182.5L727.5,191.6L727.8,188.4L728.0,187.4L728.3,178.4L728.6,183.4L728.8,178.4L729.1,178.5L729.4,178.5L729.6,189.6L729.9,178.5L730.2,178.9L730.5,183.8L730.7,187.1L731.0,186.7L731.3,180.8L731.5,186.5L731.8,189.7L732.1,180.3L732.3,199.1L732.6,187.7L732.9,186.5L733.2,196.9L733.4,201.0L733.7,193.1L734.0,201.9L734.2,193.5L734.5,192.3L734.8,196.4L735.0,189.8L735.3,193.1L735.6,187.0L735.9,192.9L736.1,193.1L736.4,187.8L736.7,194.6L736.9,190.2L737.2,192.0L737.5,186.8L737.7,203.0L738.0,206.6L738.3,207.4L738.6,194.9L738.8,194.3L739.1,205.8L739.4,191.2L739.6,193.3L739.9,189.2L740.2,193.0L740.4,192.2L740.7,207.8L741.0,199.2L741.3,208.2L741.5,196.1L741.8,200.7L742.1,206.7L742.3,208.8L742.6,205.7L742.9,204.5L743.1,196.3L743.4,200.6L743.7,206.4L744.0,209.3L744.2,213.5L744.5,208.8L744.8,208.5L745.0,204.1L745.3,208.1L745.6,201.8L745.8,199.2" stroke="#9467bd"/>
<path d="M564.0,225.3L564.3,227.3L564.5,227.2L564.8,227.1L565.1,207.4L565.3,209.9L565.6,193.6L565.9,222.5L566.2,213.5L566.4,211.2L566.7,214.6L567.0,214.9L567.2,217.0L567.5,197.2L567.8,194.1L568.0,208.8L568.3,184.5L568.6,215.7L568.9,194.0L569.1,178.8L569.4,191.1L569.7,176.1L569.9,184.3L570.2,199.8L570.5,196.7L570.7,184.9L571.0,178.0L571.3,192.8L571.6,168.8L571.8,168.7L572.1,170.5L572.4,188.1L572.6,192.5L572.9,195.8L573.2,186.7L573.4,199.0L573.7,183.5L574.0,178.3L574.3,194.7L574.5,186.1L574.8,189.5L575.1,186.2L575.3,187.4L575.6,178.2L575.9,180.9L576.1,178.5L576.4,177.3L576.7,171.0L577.0,173.8L577.2,172.0L577.5,184.4L577.8,174.8L578.0,174.6L578.3,169.4L578.6,163.9L578.8,175.7L579.1,168.7L579.4,171.1L579.7,168.4L579.9,174.4L580.2,178.9L580.5,182.7L580.7,158.3L581.0,164.1L581.3,168.7L581.5,170.6L581.8,160.9L582.1,172.8L582.4,175.7L582.6,187.4L582.9,174.5L583.2,176.9L583.4,165.0L583.7,167.2L584.0,167.2L584.2,172.8L584.5,185.0L584.8,170.9L585.1,161.7L585.3,172.2L585.6,164.2L585.9,178.6L586.1,170.7L586.4,164.9L586.7,174.2L586.9,169.9L587.2,174.2L587.5,164.7L587.8,174.0L588.0,164.7L588.3,162.4L588.6,180.0L588.8,165.0L589.1,166.6L589.4,161.6L589.6,164.5L589.9,172.7L590.2,177.8L590.5,169.3L590.7,166.9L591.0,164.8L591.3,162.8L591.5,179.7L591.8,169.4L592.1,165.4L592.3,161.3L592.6,172.3L592.9,156.0L593.2,163.3L593.4,171.1L593.7,170.2L594.0,164.9L594.2,168.3L594.5,169.9L594.8,156.6L595.0,167.2L595.3,173.6L595.6,165.7L595.9,167.4L596.1,168.0L596.4,174.7L596.7,168.5L596.9,168.3L597.2,163.3L597.5,161.8L597.7,160.4L598.0,163.6L598.3,169.1L598.6,168.4L598.8,169.6L599.1,172.9L599.4,163.0L599.6,163.3L599.9,163.4L600.2,166.1L600.4,168.7L600.7,163.8L601.0,167.9L601.3,170.8L601.5,164.1L601.8,161.5L602.1,165.1L602.3,162.8L602.6,162.5L602.9,162.8L603.1,164.9L603.4,165.1L603.7,163.0L604.0,172.3L604.2,171.4L604.5,164.7L604.8,158.5L605.0,169.8L605.3,167.9L605.6,161.1L605.8,157.1L606.1,159.7L606.4,159.5L606.7,162.4L606.9,164.9L607.2,168.0L607.5,164.8L607.7,166.1L608.0,171.4L608.3,166.6L608.5,171.6L608.8,159.0L609.1,164.8L609.4,168.3L609.6,164.7L609.9,160.1L610.2,168.3L610.4,156.5L610.7,161.2L611.0,163.4L611.2,150.6L611.5,150.6L611.8,167.5L612.1,157.9L612.3,165.7L612.6,171.4L612.9,167.2L613.1,166.8L613.4,167.2L613.7,171.4L613.9,171.4L614.2,171.4L614.5,171.0L614.8,170.9L615.0,163.5L615.3,161.7L615.6,156.3L615.8,164.6L616.1,165.2L616.4,161.9L616.6,161.5L616.9,164.6L617.2,161.6L617.5,166.3L617.7,163.1L618.0,150.6L618.3,159.5L618.5,171.4L618.8,171.4L619.1,167.1L619.3,163.1L619.6,163.1L619.9,157.5L620.2,164.9L620.4,164.2L620.7,160.2L621.0,162.4L621.2,171.4L621.5,162.4L621.8,163.8L622.0,171.4L622.3,158.3L622.6,167.6L622.9,164.5L623.1,162.5L623.4,168.7L623.7,171.4L623.9,163.6L624.2,167.8L624.5,157.1L624.7,155.7L625.0,158.2L625.3,157.2L625.6,160.8L625.8,160.7L626.1,158.2L626.4,163.9L626.6,167.3L626.9,156.8L627.2,168.2L627.4,164.3L627.7,170.1L628.0,158.9L628.3,160.1L628.5,162.4L628.8,165.2L629.1,165.6L629.3,152.7L629.6,157.2L629.9,151.2L630.1,158.0L630.4,171.1L630.7,162.2L631.0,163.1L631.2,170.6L631.5,167.2L631.8,168.3L632.0,168.2L632.3,167.3L632.6,166.6L632.8,161.1L633.1,167.2L633.4,167.7L633.7,169.2L633.9,170.6L634.2,165.9L634.5,162.5L634.7,157.6L635.0,166.4L635.3,167.2L635.5,166.7L635.8,167.3L636.1,169.8L636.4,164.7L636.6,163.2L636.9,159.9L637.2,170.1L637.4,158.8L637.7,169.1L638.0,171.0L638.2,166.5L638.5,161.6L638.8,172.0L639.1,164.3L639.3,157.0L639.6,172.1L639.9,164.1L640.1,169.6L640.4,165.4L640.7,164.7L640.9,164.3L641.2,167.0L641.5,162.2L641.8,161.7L642.0,166.8L642.3,161.9L642.6,168.0L642.8,159.3L643.1,161.4L643.4,168.8L643.6,164.0L643.9,172.2L644.2,169.2L644.5,165.1L644.7,163.6L645.0,162.8L645.3,153.9L645.5,157.3L645.8,157.1L646.1,160.4L646.3,154.2L646.6,156.5L646.9,169.5L647.2,165.3L647.4,154.8L647.7,159.9L648.0,168.2L648.2,171.1L648.5,167.9L648.8,166.0L649.0,164.5L649.3,161.3L649.6,161.8L649.9,157.8L650.1,163.8L650.4,172.7L650.7,164.8L650.9,171.3L651.2,158.1L651.5,171.1L651.7,170.5L652.0,166.9L652.3,166.7L652.6,166.1L652.8,161.9L653.1,162.0L653.4,160.8L653.6,168.7L653.9,171.8L654.2,162.4L654.4,175.8L654.7,179.7L655.0,182.1L655.3,179.5L655.5,168.3L655.8,176.6L656.1,165.5L656.3,163.9L656.6,171.5L656.9,165.4L657.1,174.6L657.4,174.2L657.7,175.5L658.0,186.1L658.2,175.1L658.5,180.4L658.8,184.8L659.0,184.5L659.3,173.7L659.6,183.4L659.8,184.0L660.1,187.6L660.4,187.1L660.7,178.4L660.9,177.7L661.2,183.9L661.5,191.7L661.7,186.0L662.0,192.7L662.3,193.0L662.5,189.9L662.8,188.9L663.1,181.9L663.4,187.5L663.6,172.0L663.9,183.7L664.2,184.1L664.4,174.2L664.7,176.6L665.0,177.4L665.2,181.7L665.5,181.1L665.8,184.8L666.1,186.7L666.3,188.4L666.6,186.8L666.9,186.0L667.1,190.6L667.4,186.3L667.7,182.3L667.9,184.7L668.2,181.7L668.5,190.0L668.8,184.9L669.0,183.8L669.3,183.4L669.6,193.4L669.8,197.6L670.1,198.4L670.4,198.4L670.6,204.6L670.9,199.1L671.2,193.5L671.5,193.8L671.7,196.1L672.0,200.7L672.3,198.9L672.5,197.7L672.8,198.1L673.1,202.7L673.3,192.1L673.6,203.4L673.9,200.2L674.2,207.8L674.4,197.7L674.7,195.0L675.0,193.3L675.2,201.4L675.5,211.9L675.8,214.2L676.0,210.7L676.3,200.8L676.6,206.8L676.9,210.1L677.1,213.4L677.4,199.9L677.7,204.8L677.9,212.9L678.2,211.2L678.5,221.2L678.7,209.2L679.0,213.0L679.3,223.1L679.6,206.2L679.8,211.3L680.1,220.5L680.4,220.9L680.6,215.4L680.9,207.0L681.2,217.2L681.4,226.5L681.7,227.5L682.0,212.3L682.3,208.0L682.5,226.5L682.8,226.1L683.1,215.1L683.3,226.2L683.6,224.6L683.9,226.8L684.1,232.2L684.4,220.8L684.7,232.1L685.0,235.9L685.2,240.9L685.5,240.8L685.8,241.9L686.0,240.5L686.3,243.6L686.6,246.8L686.8,250.2L687.1,248.3L687.4,243.7L687.7,251.9L687.9,249.3" stroke="#8c564b"/>
<path d="M160.0,169.0L160.3,158.8L160.5,167.0L160.8,167.7L161.1,154.4L161.4,161.0L161.6,168.2L161.9,172.7L162.2,169.1L162.4,168.6L162.7,168.0L163.0,160.9L163.2,162.8L163.5,168.1L163.8,170.3L164.1,168.0L164.3,161.0L164.6,161.0L164.9,163.5L165.1,164.8L165.4,158.9L165.7,173.9L165.9,167.3L166.2,165.1L166.5,153.0L166.8,162.4L167.0,169.0L167.3,166.1L167.6,154.0L167.8,156.6L168.1,164.1L168.4,154.8L168.6,154.8L168.9,163.1L169.2,163.1L169.5,161.0L169.7,154.2L170.0,162.0L170.3,162.0L170.5,161.0L170.8,164.0L171.1,165.9L171.3,160.5L171.6,164.7L171.9,162.6L172.2,159.1L172.4,158.4L172.7,160.7L173.0,157.1L173.2,163.1L173.5,156.3L173.8,159.1L174.0,150.9L174.3,160.1L174.6,163.5L174.9,168.8L175.1,163.7L175.4,154.4L175.7,166.9L175.9,153.5L176.2,156.8L176.5,158.7L176.7,158.0L177.0,151.5L177.3,152.8L177.6,153.9L177.8,156.9L178.1,158.6L178.4,153.6L178.6,157.2L178.9,159.1L179.2,158.7L179.4,155.4L179.7,153.8L180.0,154.9L180.3,162.7L180.5,167.3L180.8,159.1L181.1,165.3L181.3,161.0L181.6,160.0L181.9,164.7L182.1,156.2L182.4,165.0L182.7,151.9L183.0,161.2L183.2,155.9L183.5,154.7L183.8,152.8L184.0,155.4L184.3,161.9L184.6,165.1L184.8,154.5L185.1,152.4L185.4,153.8L185.7,159.6L185.9,155.0L186.2,152.7L186.5,164.3L186.7,156.9L187.0,166.9L187.3,154.0L187.5,164.7L187.8,163.0L188.1,159.7L188.4,157.5L188.6,161.5L188.9,158.0L189.2,159.0L189.4,153.9L189.7,159.8L190.0,153.3L190.2,150.6L190.5,149.1L190.8,154.7L191.1,150.6L191.3,159.5L191.6,164.3L191.9,153.1L192.1,166.6L192.4,166.5L192.7,168.2L192.9,163.9L193.2,165.1L193.5,160.9L193.8,161.2L194.0,171.5L194.3,166.7L194.6,167.9L194.8,167.9L195.1,167.8L195.4,168.5L195.6,172.4L195.9,166.5L196.2,160.0L196.5,172.9L196.7,173.1L197.0,159.8L197.3,157.5L197.5,158.7L197.8,151.5L198.1,160.5L198.3,160.6L198.6,164.0L198.9,164.0L199.2,162.2L199.4,167.6L199.7,157.2L200.0,164.4L200.2,156.0L200.5,157.4L200.8,167.5L201.0,155.8L201.3,158.4L201.6,171.6L201.9,170.1L202.1,159.2L202.4,154.3L202.7,169.7L202.9,173.3L203.2,160.5L203.5,156.8L203.7,168.8L204.0,167.5L204.3,165.3L204.6,156.9L204.8,166.5L205.1,173.9L205.4,169.7L205.6,172.7L205.9,170.7L206.2,164.3L206.4,168.6L206.7,167.7L207.0,163.0L207.3,181.2L207.5,180.9L207.8,177.2L208.1,161.3L208.3,172.9L208.6,178.7L208.9,167.5L209.1,179.1L209.4,176.3L209.7,176.3L210.0,176.6L210.2,181.2L210.5,176.0L210.8,182.0L211.0,177.2L211.3,173.9L211.6,168.3L211.8,177.2L212.1,173.5L212.4,175.1L212.7,169.4L212.9,169.3L213.2,181.2L213.5,174.3L213.7,171.3L214.0,177.4L214.3,171.7L214.5,172.2L214.8,174.8L215.1,173.6L215.4,175.4L215.6,174.6L215.9,174.6L216.2,184.3L216.4,189.5L216.7,191.1L217.0,186.0L217.2,178.6L217.5,196.2L217.8,192.4L218.1,190.9L218.3,190.8L218.6,192.5L218.9,194.3L219.1,184.3L219.4,191.4L219.7,196.1L219.9,195.4L220.2,192.2L220.5,211.2L220.8,207.2L221.0,191.7L221.3,211.5L221.6,206.6L221.8,204.4L222.1,194.1L222.4,200.7L222.6,203.8L222.9,197.6L223.2,214.3L223.5,215.4L223.7,214.0L224.0,208.2L224.3,213.1L224.5,216.3L224.8,208.4L225.1,215.6L225.3,223.8L225.6,227.3L225.9,232.0L226.2,227.5L226.4,208.6L226.7,220.3L227.0,223.0L227.2,220.8L227.5,232.5L227.8,237.4L228.0,225.3L228.3,234.0L228.6,236.2L228.9,227.6L229.1,231.3L229.4,232.0L229.7,230.8L229.9,235.1L230.2,242.1L230.5,245.7L230.7,244.5L231.0,244.8L231.3,250.5L231.6,251.9L231.8,261.3L232.1,262.1L232.4,254.5L232.6,240.2L232.9,247.7L233.2,259.4L233.4,262.5L233.7,269.3L234.0,272.1L234.3,263.4L234.5,255.1L234.8,262.3L235.1,264.3L235.3,262.8L235.6,250.9L235.9,248.1L236.1,250.4L236.4,248.3L236.7,244.3L237.0,252.5L237.2,251.2L237.5,249.5L237.8,238.6L238.0,236.9L238.3,236.8L238.6,241.5L238.8,231.8" stroke="#bcbd22"/>
<path d="M766.0,200.6L766.3,205.6L766.5,198.8L766.8,209.4L767.1,193.0L767.3,190.3L767.6,201.4L767.9,194.9L768.2,199.8L768.4,187.2L768.7,183.7L769.0,183.4L769.2,183.1L769.5,193.4L769.8,202.8L770.0,189.3L770.3,186.7L770.6,183.2L770.9,185.7L771.1,188.0L771.4,192.5L771.7,181.1L771.9,200.0L772.2,208.6L772.5,189.8L772.7,197.3L773.0,189.1L773.3,190.2L773.6,181.5L773.8,196.4L774.1,196.0L774.4,197.6L774.6,193.8L774.9,203.7L775.2,180.9L775.4,189.8L775.7,182.1L776.0,196.5L776.3,172.1L776.5,179.1L776.8,187.6L777.1,194.5L777.3,174.0L777.6,196.2L777.9,168.6L778.1,174.0L778.4,176.8L778.7,172.9L779.0,188.3L779.2,189.9L779.5,191.3L779.8,169.1L780.0,168.5L780.3,169.7L780.6,197.6L780.8,177.6L781.1,168.3L781.4,180.5L781.7,183.8L781.9,189.5L782.2,174.2L782.5,190.1L782.7,169.6L783.0,174.6L783.3,159.6L783.5,159.5L783.8,177.9L784.1,175.7L784.4,177.1L784.6,181.5L784.9,179.7L785.2,178.7L785.4,158.6L785.7,172.8L786.0,190.4L786.2,175.2L786.5,180.0L786.8,180.4L787.1,181.1L787.3,180.4L787.6,170.3L787.9,173.0L788.1,160.5L788.4,170.7L788.7,163.5L788.9,171.1L789.2,186.3L789.5,186.1L789.8,177.2L790.0,176.9L790.3,179.8L790.6,171.3L790.8,170.6L791.1,160.4L791.4,166.1L791.6,182.2L791.9,174.8L792.2,169.9L792.5,168.2L792.7,155.4L793.0,164.1L793.3,155.2L793.5,158.3L793.8,155.0L794.1,166.4L794.3,177.8L794.6,160.3L794.9,154.6L795.2,166.4L795.4,169.1L795.7,167.5L796.0,172.9L796.2,160.2L796.5,174.3L796.8,169.2L797.0,170.7L797.3,175.6L797.6,166.9L797.9,181.6L798.1,158.2L798.4,152.0L798.7,151.7L798.9,160.6L799.2,151.0L799.5,152.9L799.7,159.0L800.0,155.9L800.3,152.8L800.6,157.2L800.8,169.6L801.1,169.1L801.4,160.8L801.6,150.2L801.9,147.5L802.2,159.4L802.4,175.7L802.7,165.3L803.0,159.5L803.3,161.9L803.5,154.9L803.8,146.5L804.1,160.9L804.3,154.9L804.6,161.1L804.9,167.6L805.1,150.2L805.4,152.3L805.7,163.7L806.0,159.0L806.2,156.2L806.5,151.5L806.8,153.9L807.0,159.0L807.3,164.3L807.6,152.6L807.8,169.2L808.1,160.2L808.4,143.6L808.7,142.9L808.9,156.2L809.2,165.6L809.5,171.1L809.7,154.7L810.0,165.1L810.3,157.8L810.5,161.2L810.8,153.1L811.1,143.8L811.4,145.7L811.6,141.9L811.9,158.1L812.2,145.8L812.4,153.7L812.7,163.8L813.0,154.0L813.2,165.6L813.5,163.4L813.8,146.1L814.1,173.5L814.3,172.4L814.6,158.4L814.9,157.8L815.1,152.6L815.4,144.2L815.7,157.6L815.9,157.0L816.2,143.5L816.5,148.2L816.8,145.6L817.0,151.6L817.3,154.3L817.6,157.7L817.8,153.6L818.1,156.9L818.4,151.0L818.6,147.8L818.9,160.2L819.2,154.6L819.5,153.0L819.7,154.9L820.0,149.5L820.3,144.8L820.5,151.0L820.8,148.4L821.1,145.7L821.3,151.3L821.6,147.3L821.9,156.2L822.2,149.2L822.4,146.9L822.7,149.0L823.0,149.5L823.2,149.5L823.5,158.1L823.8,159.6L824.0,163.0L824.3,150.7L824.6,157.3L824.9,159.8L825.1,157.3L825.4,160.6L825.7,154.2L825.9,156.6L826.2,154.8L826.5,162.7L826.7,155.8L827.0,157.7L827.3,159.3L827.6,154.5L827.8,172.7L828.1,173.6L828.4,162.0L828.6,155.0L828.9,164.1L829.2,153.5L829.4,165.2L829.7,167.8L830.0,161.6L830.3,163.7L830.5,152.9L830.8,157.7L831.1,162.5L831.3,168.4L831.6,168.9L831.9,160.3L832.1,154.8L832.4,158.2L832.7,156.7L833.0,164.3L833.2,168.8L833.5,164.6L833.8,161.3L834.0,156.9L834.3,166.1L834.6,158.8L834.8,168.9L835.1,169.8L835.4,174.7L835.7,170.2L835.9,170.8L836.2,161.4L836.5,169.8L836.7,169.3L837.0,166.6L837.3,167.0L837.5,166.4L837.8,160.7L838.1,169.9L838.4,177.0L838.6,163.6L838.9,177.3L839.2,165.2L839.4,157.2L839.7,167.3L840.0,173.5L840.2,162.2L840.5,173.2L840.8,163.2L841.1,167.0L841.3,160.2L841.6,167.1L841.9,161.7L842.1,160.3L842.4,158.1L842.7,169.3L842.9,158.5L843.2,173.5L843.5,169.8L843.8,163.8L844.0,167.2L844.3,171.9L844.6,171.3L844.8,176.4L845.1,165.9L845.4,164.0L845.6,164.1L845.9,165.5L846.2,158.4L846.5,157.0L846.7,171.9L847.0,168.7L847.3,165.9L847.5,162.2L847.8,164.3L848.1,174.7L848.3,170.1L848.6,175.0L848.9,171.9L849.2,167.6L849.4,174.3L849.7,174.2L850.0,164.3L850.2,171.9L850.5,160.5L850.8,157.9L851.0,170.8L851.3,163.2L851.6,160.6L851.9,163.8L852.1,167.9L852.4,163.1L852.7,173.0L852.9,167.2L853.2,173.3L853.5,171.9L853.7,162.7L854.0,164.8L854.3,155.7L854.6,164.0L854.8,168.9L855.1,159.1L855.4,165.4L855.6,170.7L855.9,166.9L856.2,172.3L856.4,183.2L856.7,174.4L857.0,168.7L857.3,175.2L857.5,162.3L857.8,168.2L858.1,171.2L858.3,162.3L858.6,175.3L858.9,178.6L859.1,166.9L859.4,167.4L859.7,169.7L860.0,180.3L860.2,168.2L860.5,174.4L860.8,170.2L861.0,169.7L861.3,164.1L861.6,176.9L861.8,182.8L862.1,161.5L862.4,173.8L862.7,177.1L862.9,174.7L863.2,167.2L863.5,178.2L863.7,170.9L864.0,178.6L864.3,180.3L864.5,172.1" stroke="#17becf"/>
</g>
<rect x="125.5" y="60.5" width="775" height="385" fill="none" stroke="#000" stroke-width="1.1"/>
<g stroke="#000" stroke-width="1.1"><line x1="239.5" y1="445.5" x2="239.5" y2="450.5"/><line x1="402.5" y1="445.5" x2="402.5" y2="450.5"/><line x1="565.5" y1="445.5" x2="565.5" y2="450.5"/><line x1="728.5" y1="445.5" x2="728.5" y2="450.5"/><line x1="891.5" y1="445.5" x2="891.5" y2="450.5"/><line x1="120.5" y1="60.5" x2="125.5" y2="60.5"/><line x1="120.5" y1="115.5" x2="125.5" y2="115.5"/><line x1="120.5" y1="170.5" x2="125.5" y2="170.5"/><line x1="120.5" y1="225.5" x2="125.5" y2="225.5"/><line x1="120.5" y1="280.5" x2="125.5" y2="280.5"/><line x1="120.5" y1="335.5" x2="125.5" y2="335.5"/><line x1="120.5" y1="390.5" x2="125.5" y2="390.5"/><line x1="120.5" y1="445.5" x2="125.5" y2="445.5"/></g>
<g style="will-change:transform">
<text x="212.2" y="466" font-size="14.7" textLength="52.8" lengthAdjust="spacingAndGlyphs">600000</text>
<text x="375.2" y="466" font-size="14.7" textLength="52.8" lengthAdjust="spacingAndGlyphs">620000</text>
<text x="538.2" y="466" font-size="14.7" textLength="52.8" lengthAdjust="spacingAndGlyphs">640000</text>
<text x="701.2" y="466" font-size="14.7" textLength="52.8" lengthAdjust="spacingAndGlyphs">660000</text>
<text x="864.2" y="466" font-size="14.7" textLength="52.8" lengthAdjust="spacingAndGlyphs">680000</text>
<text x="97.9" y="65.8" font-size="14.7" textLength="17.5" lengthAdjust="spacingAndGlyphs">60</text>
<text x="97.9" y="120.8" font-size="14.7" textLength="17.5" lengthAdjust="spacingAndGlyphs">55</text>
<text x="97.9" y="175.8" font-size="14.7" textLength="17.5" lengthAdjust="spacingAndGlyphs">50</text>
<text x="97.9" y="230.8" font-size="14.7" textLength="17.5" lengthAdjust="spacingAndGlyphs">45</text>
<text x="97.9" y="285.8" font-size="14.7" textLength="17.5" lengthAdjust="spacingAndGlyphs">40</text>
<text x="97.9" y="340.8" font-size="14.7" textLength="17.5" lengthAdjust="spacingAndGlyphs">35</text>
<text x="97.9" y="395.8" font-size="14.7" textLength="17.5" lengthAdjust="spacingAndGlyphs">30</text>
<text x="97.9" y="450.8" font-size="14.7" textLength="17.5" lengthAdjust="spacingAndGlyphs">25</text>
<text x="484.0" y="485.6" font-size="14.7" textLength="57.0" lengthAdjust="spacingAndGlyphs">Time (s)</text>
<text transform="translate(88,289.2) rotate(-90)" font-size="14.7" textLength="73" lengthAdjust="spacingAndGlyphs">CNo dB Hz</text>
<text x="278.2" y="52" font-size="17.6" textLength="132.2" lengthAdjust="spacingAndGlyphs">1112_no_radio/</text>
<text x="411.2" y="52" font-size="17.6" textLength="55.3" lengthAdjust="spacingAndGlyphs">results/</text>
<text x="467.5" y="52" font-size="17.6" textLength="111.3" lengthAdjust="spacingAndGlyphs">P4-03_gt35_1</text>
<text x="586.2" y="52" font-size="17.6" textLength="58.8" lengthAdjust="spacingAndGlyphs">BeiDou</text>
<text x="652.6" y="52" font-size="17.6" textLength="94.8" lengthAdjust="spacingAndGlyphs">L1(BOC-PD)</text>
</g>
<rect x="922.5" y="74.5" width="110" height="460" rx="2.8" fill="#fff" fill-opacity="0.8" stroke="#ccc" stroke-width="1.1"/>
<g style="will-change:transform">
<line x1="927.3" y1="86.5" x2="956" y2="86.5" stroke="#1f77b4" stroke-width="0.75"/>
<text x="967.0" y="89.8" font-size="14.7" textLength="29.8" lengthAdjust="spacingAndGlyphs">19.0</text>
<line x1="927.3" y1="107.5" x2="956" y2="107.5" stroke="#ff7f0e" stroke-width="0.75"/>
<text x="967.0" y="110.7" font-size="14.7" textLength="29.8" lengthAdjust="spacingAndGlyphs">20.0</text>
<line x1="927.3" y1="127.5" x2="956" y2="127.5" stroke="#2ca02c" stroke-width="0.75"/>
<text x="967.0" y="131.7" font-size="14.7" textLength="29.8" lengthAdjust="spacingAndGlyphs">21.0</text>
<line x1="927.3" y1="148.5" x2="956" y2="148.5" stroke="#d62728" stroke-width="0.75"/>
<text x="967.0" y="152.6" font-size="14.7" textLength="29.8" lengthAdjust="spacingAndGlyphs">22.0</text>
<line x1="927.3" y1="169.5" x2="956" y2="169.5" stroke="#9467bd" stroke-width="0.75"/>
<text x="967.0" y="173.6" font-size="14.7" textLength="29.8" lengthAdjust="spacingAndGlyphs">23.0</text>
<line x1="927.3" y1="190.5" x2="956" y2="190.5" stroke="#8c564b" stroke-width="0.75"/>
<text x="967.0" y="194.6" font-size="14.7" textLength="29.8" lengthAdjust="spacingAndGlyphs">24.0</text>
<line x1="927.3" y1="211.5" x2="956" y2="211.5" stroke="#e377c2" stroke-width="0.75"/>
<text x="967.0" y="215.5" font-size="14.7" textLength="29.8" lengthAdjust="spacingAndGlyphs">25.0</text>
<line x1="927.3" y1="232.5" x2="956" y2="232.5" stroke="#7f7f7f" stroke-width="0.75"/>
<text x="967.0" y="236.5" font-size="14.7" textLength="29.8" lengthAdjust="spacingAndGlyphs">26.0</text>
<line x1="927.3" y1="253.5" x2="956" y2="253.5" stroke="#bcbd22" stroke-width="0.75"/>
<text x="967.0" y="257.4" font-size="14.7" textLength="29.8" lengthAdjust="spacingAndGlyphs">27.0</text>
<line x1="927.3" y1="274.5" x2="956" y2="274.5" stroke="#17becf" stroke-width="0.75"/>
<text x="967.0" y="278.4" font-size="14.7" textLength="29.8" lengthAdjust="spacingAndGlyphs">28.0</text>
<line x1="927.3" y1="295.5" x2="956" y2="295.5" stroke="#1f77b4" stroke-width="0.75"/>
<text x="967.0" y="299.4" font-size="14.7" textLength="29.8" lengthAdjust="spacingAndGlyphs">29.0</text>
<line x1="927.3" y1="316.5" x2="956" y2="316.5" stroke="#ff7f0e" stroke-width="0.75"/>
<text x="967.0" y="320.3" font-size="14.7" textLength="29.8" lengthAdjust="spacingAndGlyphs">30.0</text>
<line x1="927.3" y1="337.5" x2="956" y2="337.5" stroke="#2ca02c" stroke-width="0.75"/>
<text x="967.0" y="341.3" font-size="14.7" textLength="29.8" lengthAdjust="spacingAndGlyphs">32.0</text>
<line x1="927.3" y1="358.5" x2="956" y2="358.5" stroke="#d62728" stroke-width="0.75"/>
<text x="967.0" y="362.2" font-size="14.7" textLength="29.8" lengthAdjust="spacingAndGlyphs">33.0</text>
<line x1="927.3" y1="379.5" x2="956" y2="379.5" stroke="#9467bd" stroke-width="0.75"/>
<text x="967.0" y="383.2" font-size="14.7" textLength="29.8" lengthAdjust="spacingAndGlyphs">34.0</text>
<line x1="927.3" y1="400.5" x2="956" y2="400.5" stroke="#8c564b" stroke-width="0.75"/>
<text x="967.0" y="404.2" font-size="14.7" textLength="29.8" lengthAdjust="spacingAndGlyphs">35.0</text>
<line x1="927.3" y1="421.5" x2="956" y2="421.5" stroke="#e377c2" stroke-width="0.75"/>
<text x="967.0" y="425.1" font-size="14.7" textLength="29.8" lengthAdjust="spacingAndGlyphs">36.0</text>
<line x1="927.3" y1="442.5" x2="956" y2="442.5" stroke="#7f7f7f" stroke-width="0.75"/>
<text x="967.0" y="446.1" font-size="14.7" textLength="29.8" lengthAdjust="spacingAndGlyphs">37.0</text>
<line x1="927.3" y1="463.5" x2="956" y2="463.5" stroke="#bcbd22" stroke-width="0.75"/>
<text x="967.0" y="467.0" font-size="14.7" textLength="29.8" lengthAdjust="spacingAndGlyphs">41.0</text>
<line x1="927.3" y1="484.5" x2="956" y2="484.5" stroke="#17becf" stroke-width="0.75"/>
<text x="967.0" y="488.0" font-size="14.7" textLength="29.8" lengthAdjust="spacingAndGlyphs">42.0</text>
<line x1="927.3" y1="505.5" x2="956" y2="505.5" stroke="#1f77b4" stroke-width="0.75"/>
<text x="967.0" y="509.0" font-size="14.7" textLength="29.8" lengthAdjust="spacingAndGlyphs">43.0</text>
</g>
</svg></body></html>
